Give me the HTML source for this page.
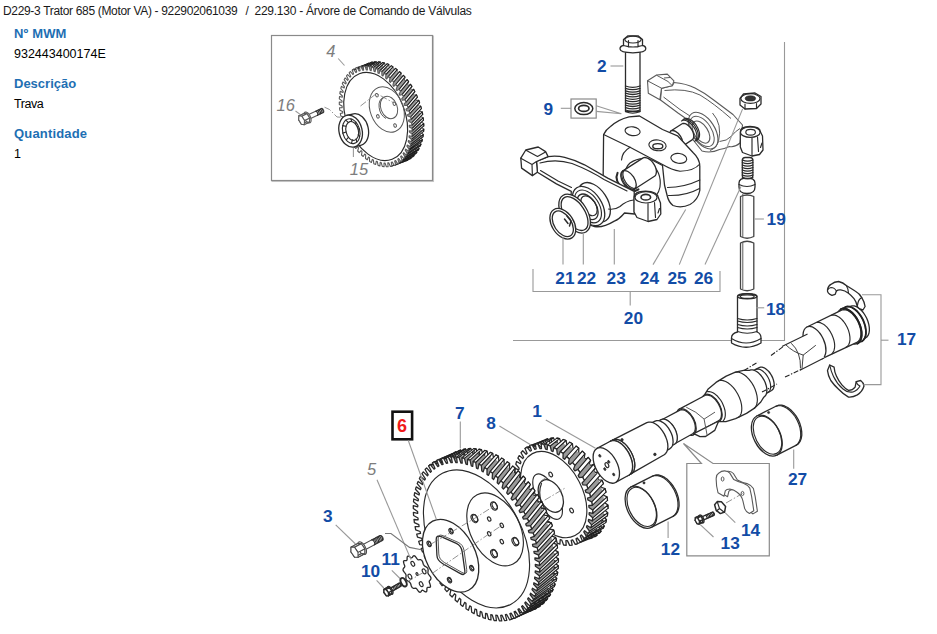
<!DOCTYPE html>
<html lang="pt-BR">
<head>
<meta charset="utf-8">
<title>229.130 - Árvore de Comando de Válvulas</title>
<style>
html,body{margin:0;padding:0;background:#fff;}
body{width:937px;height:634px;position:relative;overflow:hidden;font-family:"Liberation Sans",Arial,sans-serif;color:#000;}
#hdr{position:absolute;left:0;top:3.5px;font-size:12px;line-height:15px;white-space:pre;color:#1a1a1a;}
#hdr span{position:absolute;top:0;}
#h1{left:3px;letter-spacing:-0.33px;}#h2{left:245.5px;}#h3{left:254.5px;letter-spacing:-0.25px;}
.lab{position:absolute;left:14px;font-weight:bold;font-size:13px;line-height:16px;color:#1e6fb3;white-space:nowrap;}
.val{position:absolute;left:14px;font-size:12.5px;line-height:16px;color:#000;white-space:nowrap;}
#dia{position:absolute;left:0;top:0;width:937px;height:634px;}
</style>
</head>
<body>
<div id="hdr"><span id="h1">D229-3 Trator 685 (Motor VA) - 922902061039</span><span id="h2">/</span><span id="h3">229.130 - Árvore de Comando de Válvulas</span></div>
<div class="lab" id="l1" style="top:26px;letter-spacing:0.15px">Nº MWM</div>
<div class="val" id="v1" style="top:46px">932443400174E</div>
<div class="lab" id="l2" style="top:76px">Descrição</div>
<div class="val" id="v2" style="top:96px;letter-spacing:-0.45px">Trava</div>
<div class="lab" id="l3" style="top:126px;letter-spacing:0.17px">Quantidade</div>
<div class="val" id="v3" style="top:146px">1</div>
<svg id="dia" viewBox="0 0 937 634" width="937" height="634">
<style>
.k{fill:#fff;stroke:#2b2b2b;stroke-width:1.3;stroke-linejoin:round;stroke-linecap:round}
.n{fill:none;stroke:#2b2b2b;stroke-width:1.15;stroke-linejoin:round;stroke-linecap:round}
.l{fill:#fff;stroke:#5a5a5a;stroke-width:1.1;stroke-linejoin:round}
.ln{fill:none;stroke:#5a5a5a;stroke-width:1;stroke-linejoin:round}
.wf{fill:#fff;stroke:none}
.nb{fill:none;stroke:#222;stroke-width:1.8;stroke-linecap:round}
.m{fill:#fff;stroke:#4a4a4a;stroke-width:1.05;stroke-linejoin:round}
.band{fill:#9a9a9a;stroke:none}
.tooth{fill:#fff;stroke:#1e1e1e;stroke-width:1.1;stroke-linejoin:round}
.g{fill:none;stroke:#999;stroke-width:1.1}
.gb{fill:#fff;stroke:#8a8a8a;stroke-width:1.2}
.dd{fill:none;stroke:#777;stroke-width:0.8;stroke-dasharray:7 2 1.5 2}
.dk{fill:none;stroke:#222;stroke-width:1.1;stroke-dasharray:5 1.6 1.4 1.6}
.d{fill:#333;stroke:#222;stroke-width:0.6}
.t{font:bold 17.3px "Liberation Sans",Arial,sans-serif;fill:#124ca6}
.ti{font:italic 16.5px "Liberation Sans",Arial,sans-serif;fill:#7d7d7d}
.tr{font:bold 18px "Liberation Sans",Arial,sans-serif;fill:#f01a1a}
</style>
<polyline class="g" points="784.5,42 784.5,340.5 760.5,340.5"/>
<line class="g" x1="513" y1="340.5" x2="731" y2="340.5"/>
<polyline class="g" points="533,269 533,291.5 720,291.5 720,271"/>
<line class="g" x1="630.2" y1="291.5" x2="630.2" y2="305.5"/>
<rect x="272.3" y="36.3" width="161" height="145" fill="none" stroke="#c8c8c8" stroke-width="1.5"/>
<rect class="gb" x="271.5" y="35.5" width="161" height="145"/>
<g id="inset">
<polygon class="l" points="413.8,95.2 416.4,94.7 417.4,97.1 415.5,99 416.1,100.4 418.7,100.3 419.6,102.8 417.5,104.3 417.9,105.7 420.7,106.1 421.4,108.6 419,109.6 419.4,111.1 422.2,111.9 422.7,114.4 420.2,115 420.4,116.5 423.2,117.7 423.5,120.2 420.9,120.4 421,121.9 423.7,123.5 423.8,125.9 421.1,125.7 421.1,127.1 423.8,129.1 423.6,131.4 420.9,130.7 420.7,132.1 423.3,134.5 423,136.7 420.2,135.6 419.9,136.8 422.4,139.5 421.8,141.6 419.1,140.1 418.7,141.2 421,144.2 420.2,146.1 417.5,144.2 417,145.2 419.1,148.5 418.2,150.2 415.6,147.9 415,148.8 416.8,152.3 415.7,153.7 413.2,151.1 412.5,151.8 414.1,155.5 412.9,156.7 410.5,153.7 409.8,154.4 411.1,158.1 409.7,159.1 407.5,155.9 406.7,156.3 407.7,160.2 406.2,160.8 404.3,157.4 403.4,157.7 404.1,161.5 402.4,161.9 400.8,158.3 399.8,158.4 400.2,162.2 398.5,162.3 397.1,158.5 396.1,158.5 396.2,162.2 394.4,162 393.3,158.2 392.2,158 392,161.6 390.2,161.1 389.4,157.2 388.3,156.9 387.8,160.2 385.9,159.4 385.5,155.6 384.4,155.1 383.5,158.2 381.7,157.2 381.6,153.5 380.5,152.8 379.4,155.6 377.6,154.3 377.7,150.7 376.7,149.9 375.3,152.4 373.6,150.9 374.1,147.5 373.1,146.5 371.4,148.7 369.8,146.9 370.6,143.7 369.6,142.6 367.7,144.4 366.2,142.5 367.3,139.5 366.4,138.4 364.3,139.7 362.9,137.6 364.3,135 363.5,133.7 361.1,134.7 359.9,132.4 361.6,130.2 360.9,128.8 358.4,129.3 357.3,126.9 359.2,125.1 358.7,123.6 356,123.7 355.1,121.3 357.3,119.8 356.8,118.3 354.1,118 353.4,115.5 355.7,114.4 355.4,112.9 352.6,112.1 352.1,109.6 354.6,109 354.3,107.5 351.6,106.3 351.3,103.8 353.9,103.6 353.8,102.2 351,100.5 350.9,98.1 353.6,98.4 353.7,97 351,94.9 351.1,92.6 353.9,93.3 354,92 351.4,89.6 351.8,87.3 354.5,88.5 354.8,87.2 352.4,84.5 352.9,82.4 355.7,84 356,82.8 353.8,79.8 354.5,77.9 357.2,79.9 357.7,78.8 355.6,75.5 356.6,73.8 359.2,76.2 359.8,75.3 357.9,71.8 359,70.3 361.5,73 362.2,72.2 360.6,68.5 361.9,67.3 364.2,70.3 365,69.7 363.6,65.9 365.1,65 367.2,68.2 368,67.7 367,63.9 368.6,63.2 370.5,66.7 371.4,66.4 370.7,62.5 372.3,62.1 374,65.8 374.9,65.6 374.5,61.8 376.3,61.7 377.6,65.5 378.7,65.5 378.6,61.8 380.4,62 381.5,65.8 382.5,66 382.7,62.5 384.6,63 385.4,66.8 386.4,67.2 387,63.8 388.8,64.6 389.3,68.4 390.3,68.9 391.2,65.8 393,66.9 393.2,70.6 394.2,71.3 395.4,68.4 397.2,69.7 397,73.3 398,74.2 399.5,71.6 401.2,73.2 400.7,76.6 401.6,77.6 403.4,75.4 405,77.1 404.2,80.3 405.1,81.4 407.1,79.6 408.6,81.6 407.5,84.5 408.3,85.7 410.5,84.3 411.9,86.4 410.5,89 411.2,90.3 413.6,89.3 414.8,91.6 413.2,93.9"/>
<polygon class="band" points="370,66.8 371.3,66.4 372.6,66 373.9,65.8 375.3,65.6 376.7,65.5 378.1,65.5 379.5,65.6 381,65.8 382.4,66 383.9,66.4 385.3,66.8 386.8,67.3 388.3,67.9 389.7,68.6 391.2,69.4 392.7,70.3 394.1,71.2 395.6,72.2 397,73.3 398.4,74.5 399.8,75.7 401.1,77 402.4,78.4 403.7,79.8 405,81.3 406.2,82.9 407.4,84.5 408.6,86.1 409.7,87.8 410.8,89.6 411.8,91.4 412.8,93.2 413.8,95.1 414.7,97 415.5,99 416.3,100.9 417,102.9 417.7,104.9 418.3,106.9 418.9,108.9 419.4,111 419.8,113 420.2,115 420.5,117 420.7,119.1 420.9,121.1 421,123 421.1,125 421.1,126.9 421,128.8 420.9,130.7 420.7,132.6 420.4,134.4 420.1,136.1 419.7,137.8 419.2,139.5 418.7,141.1 418.2,142.7 417.5,144.2 416.9,145.6 416.1,147 415.3,148.3 414.5,149.5 413.6,150.7 412.6,151.8 411.6,152.8 410.6,153.7 409.5,154.6 408.3,155.4 407.2,156.1 406,156.7 404.7,157.2 393,161.7 394.3,161.2 395.5,160.5 396.7,159.8 397.8,159.1 398.9,158.2 399.9,157.3 400.9,156.3 401.9,155.2 402.8,154 403.6,152.8 404.4,151.5 405.2,150.1 405.9,148.6 406.5,147.1 407.1,145.6 407.6,144 408,142.3 408.4,140.6 408.7,138.8 409,137 409.2,135.2 409.3,133.3 409.4,131.4 409.4,129.5 409.4,127.5 409.2,125.5 409.1,123.5 408.8,121.5 408.5,119.5 408.1,117.5 407.7,115.4 407.2,113.4 406.6,111.4 406,109.4 405.3,107.4 404.6,105.4 403.8,103.4 403,101.5 402.1,99.6 401.2,97.7 400.2,95.9 399.1,94.1 398.1,92.3 396.9,90.6 395.8,89 394.6,87.3 393.3,85.8 392.1,84.3 390.8,82.9 389.4,81.5 388.1,80.2 386.7,79 385.3,77.8 383.9,76.7 382.4,75.7 381,74.8 379.5,73.9 378.1,73.1 376.6,72.4 375.1,71.8 373.7,71.3 372.2,70.9 370.7,70.5 369.3,70.2 367.9,70.1 366.4,70 365,70 363.6,70.1 362.3,70.3 360.9,70.5 359.6,70.9 358.4,71.3"/>
<polygon class="tooth" points="407.3,105.4 408.1,107.8 417.4,97.1 416.4,94.7"/>
<polygon class="tooth" points="409.2,111.1 409.8,113.6 419.6,102.8 418.7,100.3"/>
<polygon class="tooth" points="410.6,117 411.1,119.5 421.4,108.6 420.7,106.1"/>
<polygon class="tooth" points="411.6,122.8 411.9,125.3 422.7,114.4 422.2,111.9"/>
<polygon class="tooth" points="412.1,128.5 412.1,131 423.5,120.2 423.2,117.7"/>
<polygon class="tooth" points="412.1,134.1 411.9,136.5 423.8,125.9 423.7,123.5"/>
<polygon class="tooth" points="411.6,139.5 411.2,141.7 423.6,131.4 423.8,129.1"/>
<polygon class="tooth" points="410.6,144.5 410,146.6 423,136.7 423.3,134.5"/>
<polygon class="tooth" points="409.1,149.2 408.4,151 421.8,141.6 422.4,139.5"/>
<polygon class="tooth" points="407.2,153.4 406.3,155.1 420.2,146.1 421,144.2"/>
<polygon class="tooth" points="404.9,157.1 403.8,158.5 418.2,150.2 419.1,148.5"/>
<polygon class="tooth" points="402.2,160.3 400.9,161.5 415.7,153.7 416.8,152.3"/>
<polygon class="tooth" points="399.1,162.8 397.7,163.8 412.9,156.7 414.1,155.5"/>
<polygon class="tooth" points="395.7,164.8 394.2,165.4 409.7,159.1 411.1,158.1"/>
<polygon class="tooth" points="392,166.1 390.4,166.4 406.2,160.8 407.7,160.2"/>
<polygon class="tooth" points="352.3,70.2 353.7,69.2 361.9,67.3 360.6,68.5"/>
<polygon class="tooth" points="355.7,68.2 357.2,67.6 365.1,65 363.6,65.9"/>
<polygon class="tooth" points="359.4,66.9 361,66.6 368.6,63.2 367,63.9"/>
<polygon class="tooth" points="363.3,66.3 365,66.2 372.3,62.1 370.7,62.5"/>
<polygon class="tooth" points="367.3,66.3 369.1,66.6 376.3,61.7 374.5,61.8"/>
<polygon class="tooth" points="371.5,67.1 373.3,67.6 380.4,62 378.6,61.8"/>
<polygon class="tooth" points="375.7,68.5 377.6,69.3 384.6,63 382.7,62.5"/>
<polygon class="tooth" points="380,70.5 381.8,71.6 388.8,64.6 387,63.8"/>
<polygon class="tooth" points="384.1,73.2 385.9,74.5 393,66.9 391.2,65.8"/>
<polygon class="tooth" points="388.2,76.5 389.9,78 397.2,69.7 395.4,68.4"/>
<polygon class="tooth" points="392.1,80.3 393.7,82 401.2,73.2 399.5,71.6"/>
<polygon class="tooth" points="395.7,84.5 397.2,86.5 405,77.1 403.4,75.4"/>
<polygon class="tooth" points="399.1,89.3 400.5,91.4 408.6,81.6 407.1,79.6"/>
<polygon class="tooth" points="402.2,94.4 403.4,96.6 411.9,86.4 410.5,84.3"/>
<polygon class="tooth" points="404.9,99.7 406,102.1 414.8,91.6 413.6,89.3"/>
<polygon class="l" points="404.6,105.4 407.3,105.4 408.1,107.8 406,109.3 406.4,110.7 409.2,111.1 409.8,113.6 407.5,114.7 407.8,116.1 410.6,117 411.1,119.5 408.6,120.1 408.8,121.5 411.6,122.8 411.9,125.3 409.2,125.4 409.3,126.9 412.1,128.5 412.1,131 409.4,130.7 409.4,132.1 412.1,134.1 411.9,136.5 409.2,135.7 409,137 411.6,139.5 411.2,141.7 408.4,140.5 408.2,141.7 410.6,144.5 410,146.6 407.3,145 406.9,146.1 409.1,149.2 408.4,151 405.7,149.1 405.2,150.1 407.2,153.4 406.3,155.1 403.7,152.7 403.1,153.6 404.9,157.1 403.8,158.5 401.3,155.8 400.6,156.6 402.2,160.3 400.9,161.5 398.6,158.5 397.8,159.1 399.1,162.8 397.7,163.8 395.6,160.5 394.7,161 395.7,164.8 394.2,165.4 392.3,162 391.3,162.3 392,166.1 390.4,166.4 388.7,162.8 387.8,162.9 388.1,166.7 386.4,166.8 385,163 384,163 384.1,166.7 382.3,166.4 381.2,162.6 380.2,162.4 379.9,165.9 378.1,165.4 377.3,161.6 376.3,161.2 375.7,164.5 373.8,163.7 373.4,159.9 372.3,159.4 371.4,162.5 369.6,161.4 369.5,157.7 368.5,157 367.3,159.8 365.5,158.5 365.7,154.9 364.7,154 363.2,156.5 361.5,155 362,151.6 361.1,150.6 359.3,152.7 357.7,151 358.5,147.8 357.6,146.7 355.7,148.5 354.2,146.5 355.3,143.6 354.5,142.4 352.3,143.7 350.9,141.6 352.3,139 351.6,137.7 349.2,138.6 348,136.4 349.7,134.1 349,132.8 346.5,133.3 345.4,130.9 347.3,129 346.8,127.6 344.1,127.6 343.3,125.2 345.4,123.7 345,122.3 342.2,121.9 341.6,119.4 343.9,118.3 343.6,116.9 340.8,116 340.3,113.5 342.8,112.9 342.6,111.5 339.8,110.2 339.5,107.7 342.2,107.6 342.1,106.1 339.3,104.5 339.3,102 342,102.3 342,100.9 339.3,98.9 339.5,96.5 342.2,97.3 342.4,96 339.8,93.5 340.2,91.3 343,92.5 343.2,91.3 340.8,88.5 341.4,86.4 344.1,88 344.5,86.9 342.3,83.8 343,82 345.7,83.9 346.2,82.9 344.2,79.6 345.1,77.9 347.7,80.3 348.3,79.4 346.5,75.9 347.6,74.5 350.1,77.2 350.8,76.4 349.2,72.7 350.5,71.5 352.8,74.5 353.6,73.9 352.3,70.2 353.7,69.2 355.8,72.5 356.7,72 355.7,68.2 357.2,67.6 359.1,71 360.1,70.7 359.4,66.9 361,66.6 362.7,70.2 363.6,70.1 363.3,66.3 365,66.2 366.4,70 367.4,70 367.3,66.3 369.1,66.6 370.2,70.4 371.2,70.6 371.5,67.1 373.3,67.6 374.1,71.4 375.1,71.8 375.7,68.5 377.6,69.3 378,73.1 379.1,73.6 380,70.5 381.8,71.6 381.9,75.3 382.9,76 384.1,73.2 385.9,74.5 385.7,78.1 386.7,79 388.2,76.5 389.9,78 389.4,81.4 390.3,82.4 392.1,80.3 393.7,82 392.9,85.2 393.8,86.3 395.7,84.5 397.2,86.5 396.1,89.4 396.9,90.6 399.1,89.3 400.5,91.4 399.1,94 399.8,95.3 402.2,94.4 403.4,96.6 401.7,98.9 402.4,100.2 404.9,99.7 406,102.1 404.1,104"/>
<ellipse class="n" cx="375.7" cy="116.5" rx="29.3" ry="45.8" transform="rotate(-21 375.7 116.5)"/>
<ellipse class="ln" cx="386.8" cy="109.5" rx="16.5" ry="23.5" transform="rotate(-21 386.8 109.5)"/>
<ellipse class="ln" cx="389" cy="107.5" rx="8.2" ry="11.6" transform="rotate(-21 389 107.5)"/>
<path class="ln" d="M383.5,97.5 A8.2,11.6 -21 0 0 386,118.5"/>
<ellipse class="ln" cx="376.9" cy="95.2" rx="1.3" ry="1.8" transform="rotate(-21 376.9 95.2)"/>
<ellipse class="ln" cx="394.3" cy="103.7" rx="1.3" ry="1.8" transform="rotate(-21 394.3 103.7)"/>
<ellipse class="ln" cx="377.9" cy="116.4" rx="1.3" ry="1.8" transform="rotate(-21 377.9 116.4)"/>
<ellipse class="ln" cx="395.1" cy="125.5" rx="1.3" ry="1.8" transform="rotate(-21 395.1 125.5)"/>
<polyline class="dd" points="324.5,107.2 329.5,109.5 337,117 346,117.5"/>
<polyline class="dd" points="360.5,106 376.5,93.5 394,103"/>
<path class="k" d="M346.7,115.5 L353.5,113.8 A11.5,16.2 -14 0 1 361.3,145.2 L354.5,146.9 Z"/>
<ellipse class="k" cx="350.6" cy="131.2" rx="11.5" ry="16.2" transform="rotate(-14 350.6 131.2)"/>
<ellipse class="n" cx="351.2" cy="131.2" rx="8.6" ry="12.6" transform="rotate(-14 351.2 131.2)"/>
<ellipse class="n" cx="352.2" cy="130.9" rx="6.2" ry="9.6" transform="rotate(-14 352.2 130.9)"/>
<line class="n" x1="359.5" y1="129" x2="358.1" y2="129"/>
<line class="n" x1="359.7" y1="136.6" x2="358.3" y2="134.8"/>
<line class="n" x1="356.7" y1="142" x2="356.1" y2="138.9"/>
<line class="n" x1="351.5" y1="143.3" x2="352.4" y2="139.8"/>
<line class="n" x1="346.2" y1="139.9" x2="348.6" y2="137.2"/>
<line class="n" x1="342.8" y1="133.1" x2="346.1" y2="132"/>
<line class="n" x1="342.6" y1="125.6" x2="345.8" y2="126.3"/>
<line class="n" x1="345.7" y1="120.1" x2="348" y2="122.1"/>
<line class="n" x1="350.9" y1="118.8" x2="351.7" y2="121.2"/>
<line class="n" x1="356.1" y1="122.2" x2="355.6" y2="123.8"/>
<polygon class="l" points="306.5,115.4 321.5,108.4 321.5,108.4 322.1,108.4 322.9,109 323.5,110 323.8,111.1 323.8,112 323.4,112.6 308.5,119.5"/>
<polyline class="n" style="stroke-width:1.1" points="320.9,108.6 322,108.9 322.9,110.2 323.3,111.9 322.9,112.8"/>
<polyline class="n" style="stroke-width:1.1" points="319.6,109.3 320.6,109.5 321.6,110.9 322,112.5 321.5,113.5"/>
<polyline class="n" style="stroke-width:1.1" points="318.2,109.9 319.2,110.2 320.2,111.5 320.6,113.1 320.2,114.1"/>
<polyline class="n" style="stroke-width:1.1" points="316.9,110.6 317.9,110.8 318.9,112.1 319.2,113.8 318.8,114.7"/>
<polyline class="n" style="stroke-width:1.1" points="315.5,111.2 316.5,111.5 317.5,112.8 317.9,114.4 317.4,115.4"/>
<polygon class="l" points="310.2,116.2 310.8,117.9 311.1,119.6 311.1,121 310.7,122.1 310,122.8 309,122.9 307.9,122.5 306.8,121.6 305.7,120.3 304.8,118.7 304.2,117 303.9,115.3 303.9,113.9 304.3,112.8 305,112.1 306,112 307,112.4 308.2,113.3 309.3,114.6 310.2,116.2"/>
<polygon class="l" points="309.7,118.1 309.5,122.2 306.5,121.8 303.8,117.4 304.1,113.4 307,113.7"/>
<polygon class="l" points="304.5,120.5 304.3,124.6 309.5,122.2 309.7,118.1"/>
<polygon class="l" points="304.3,124.6 301.4,124.2 306.5,121.8 309.5,122.2"/>
<polygon class="l" points="301.4,124.2 298.7,119.9 303.8,117.4 306.5,121.8"/>
<polygon class="l" points="298.7,119.9 298.9,115.8 304.1,113.4 303.8,117.4"/>
<polygon class="l" points="298.9,115.8 301.8,116.2 307,113.7 304.1,113.4"/>
<polygon class="l" points="301.8,116.2 304.5,120.5 309.7,118.1 307,113.7"/>
<polygon class="l" points="304.5,120.5 304.3,124.6 301.4,124.2 298.7,119.9 298.9,115.8 301.8,116.2"/>
<line class="g" x1="338.2" y1="58.5" x2="344.5" y2="65.5"/>
<line class="g" x1="295.5" y1="111" x2="300.5" y2="114.6"/>
<line class="g" x1="353.4" y1="148" x2="353.4" y2="157"/>
<text class="ti" x="326.3" y="56.6">4</text>
<text class="ti" x="276.6" y="110.9">16</text>
<text class="ti" x="349.8" y="175.3">15</text>
</g>
<g id="gears">
<polygon class="k" points="427.8,568.4 428.1,569.7 428.1,571 427.9,572.2 428,573.3 428.6,574.4 429.6,575.6 430.5,576.8 431,578.1 430.8,579.2 430.2,580 429.5,580.7 429.2,581.5 429.4,582.6 430,584.1 430.4,585.5 430.5,586.7 429.9,587.3 428.8,587.4 427.8,587.4 427.2,587.7 426.9,588.5 426.9,589.9 426.8,591.2 426.3,591.9 425.4,591.9 424.3,591.2 423.2,590.5 422.4,590.2 421.7,590.5 421.2,591.4 420.5,592.2 419.7,592.3 418.7,591.6 417.8,590.4 416.9,589.1 416.1,588.3 415.3,588.1 414.3,588.3 413.3,588.3 412.4,587.8 411.6,586.7 411.1,585.2 410.7,583.8 410.1,582.7 409.3,581.9 408.2,581.3 407.1,580.6 406.2,579.6 405.9,578.3 405.9,577 406.1,575.8 406,574.7 405.4,573.6 404.4,572.4 403.5,571.2 403,569.9 403.2,568.8 403.8,568 404.5,567.3 404.8,566.5 404.6,565.4 404,563.9 403.6,562.5 403.5,561.3 404.1,560.7 405.2,560.6 406.2,560.6 406.8,560.3 407.1,559.5 407.1,558.1 407.2,556.8 407.7,556.1 408.6,556.1 409.7,556.8 410.8,557.5 411.6,557.8 412.3,557.5 412.8,556.6 413.5,555.8 414.3,555.7 415.3,556.4 416.2,557.6 417.1,558.9 417.9,559.7 418.7,559.9 419.7,559.7 420.7,559.7 421.6,560.2 422.4,561.3 422.9,562.8 423.3,564.2 423.9,565.3 424.7,566.1 425.8,566.7 426.9,567.4"/>
<ellipse class="n" cx="409.9" cy="576.6" rx="1.6" ry="2.6" transform="rotate(-28 409.9 576.6)"/>
<ellipse class="n" cx="412.8" cy="563.8" rx="1.6" ry="2.6" transform="rotate(-28 412.8 563.8)"/>
<ellipse class="n" cx="424.1" cy="571.4" rx="1.6" ry="2.6" transform="rotate(-28 424.1 571.4)"/>
<ellipse class="n" cx="421.2" cy="584.2" rx="1.6" ry="2.6" transform="rotate(-28 421.2 584.2)"/>
<ellipse class="n" cx="417" cy="574" rx="0.9" ry="1.5" transform="rotate(-28 417 574)"/>
<polyline class="dd" points="407,582 431,568"/>
<polygon class="k" points="594.8,472.5 598.2,472 599.9,475.5 597.6,477.8 598.5,479.8 602,480.2 603.4,483.7 600.6,485.3 601.3,487.4 605,488.5 606,492.1 602.8,493 603.2,495 607,496.9 607.5,500.4 604,500.4 604.2,502.4 607.9,505 608,508.4 604.3,507.6 604.2,509.5 607.7,512.7 607.4,515.8 603.6,514.3 603.2,516 606.5,519.8 605.7,522.6 602,520.2 601.4,521.7 604.3,526 603.1,528.3 599.4,525.3 598.6,526.6 601.1,531.2 599.5,533 596,529.5 595,530.4 597,535.2 595,536.6 591.9,532.5 590.7,533.1 592.2,538 589.9,538.7 587.2,534.3 585.8,534.5 586.7,539.4 584.2,539.6 581.9,534.8 580.4,534.8 580.7,539.4 578.1,539 576.3,534.2 574.8,533.8 574.4,538.1 571.7,537.1 570.5,532.2 568.9,531.5 568,535.4 565.2,533.9 564.7,529.1 563.1,528.1 561.5,531.5 558.8,529.4 558.9,524.9 557.4,523.6 555.3,526.4 552.7,523.8 553.5,519.7 552,518.2 549.5,520.2 547.1,517.3 548.4,513.7 547.1,511.9 544.1,513.2 542,510 543.9,507 542.8,505.1 539.5,505.6 537.7,502.1 540.1,499.8 539.2,497.7 535.6,497.4 534.2,493.9 537.1,492.2 536.4,490.2 532.7,489.1 531.7,485.5 534.9,484.6 534.5,482.6 530.7,480.7 530.2,477.2 533.7,477.1 533.5,475.2 529.8,472.6 529.7,469.2 533.4,470 533.5,468.1 529.9,464.9 530.3,461.7 534.1,463.3 534.4,461.6 531.1,457.8 531.9,455 535.7,457.3 536.3,455.9 533.3,451.6 534.6,449.2 538.2,452.2 539.1,451 536.5,446.4 538.2,444.5 541.6,448.1 542.6,447.2 540.6,442.4 542.6,441 545.7,445.1 546.9,444.5 545.5,439.6 547.7,438.8 550.5,443.3 551.8,443 550.9,438.2 553.5,438 555.7,442.8 557.2,442.8 556.9,438.1 559.6,438.6 561.3,443.4 562.9,443.8 563.2,439.5 566,440.5 567.1,445.4 568.7,446.1 569.7,442.2 572.4,443.7 573,448.5 574.6,449.5 576.1,446.1 578.8,448.2 578.7,452.7 580.2,454 582.3,451.2 584.9,453.8 584.2,457.9 585.6,459.4 588.2,457.4 590.6,460.3 589.2,463.9 590.5,465.7 593.5,464.4 595.6,467.6 593.7,470.6"/>
<polygon class="band" points="546,445 547.2,444.4 548.5,443.9 549.8,443.5 551.1,443.2 552.4,443 553.8,442.8 555.2,442.8 556.7,442.8 558.1,442.9 559.6,443.1 561.1,443.4 562.7,443.8 564.2,444.2 565.7,444.8 567.3,445.4 568.8,446.1 570.4,446.9 571.9,447.8 573.4,448.8 575,449.8 576.5,450.9 578,452.1 579.5,453.3 580.9,454.6 582.4,456 583.8,457.5 585.2,459 586.6,460.5 587.9,462.1 589.2,463.8 590.4,465.5 591.6,467.3 592.8,469.1 593.9,470.9 595,472.8 596,474.7 597,476.6 597.9,478.5 598.7,480.5 599.5,482.5 600.3,484.5 601,486.5 601.6,488.5 602.2,490.5 602.7,492.5 603.1,494.5 603.5,496.5 603.8,498.5 604,500.4 604.2,502.3 604.3,504.2 604.3,506.1 604.3,508 604.2,509.8 604,511.5 603.8,513.3 603.5,514.9 603.1,516.6 602.7,518.2 602.2,519.7 601.6,521.1 601,522.5 600.3,523.9 599.6,525.1 598.7,526.3 597.9,527.5 597,528.5 596,529.5 595,530.4 593.9,531.2 592.8,532 591.6,532.6 576.5,538.4 577.7,537.8 578.8,537 579.9,536.2 580.9,535.3 581.8,534.3 582.8,533.3 583.6,532.1 584.4,530.9 585.2,529.7 585.9,528.3 586.5,526.9 587,525.5 587.5,524 588,522.4 588.3,520.8 588.6,519.1 588.9,517.4 589,515.6 589.1,513.8 589.2,511.9 589.1,510.1 589,508.1 588.9,506.2 588.6,504.3 588.3,502.3 588,500.3 587.5,498.3 587,496.3 586.5,494.3 585.8,492.3 585.2,490.3 584.4,488.3 583.6,486.3 582.8,484.3 581.8,482.4 580.9,480.5 579.8,478.6 578.8,476.7 577.7,474.9 576.5,473.1 575.3,471.3 574,469.6 572.8,467.9 571.4,466.3 570.1,464.8 568.7,463.3 567.3,461.8 565.8,460.4 564.4,459.1 562.9,457.9 561.4,456.7 559.8,455.6 558.3,454.6 556.8,453.6 555.2,452.7 553.7,451.9 552.1,451.2 550.6,450.6 549.1,450 547.5,449.6 546,449.2 544.5,448.9 543,448.7 541.6,448.6 540.1,448.6 538.7,448.6 537.3,448.8 536,449 534.6,449.3 533.3,449.7 532.1,450.2 530.9,450.8"/>
<polygon class="tooth" points="586.6,485.1 588,488.7 599.9,475.5 598.2,472"/>
<polygon class="tooth" points="589.6,493.5 590.6,497.1 603.4,483.7 602,480.2"/>
<polygon class="tooth" points="591.7,501.9 592.3,505.4 606,492.1 605,488.5"/>
<polygon class="tooth" points="592.7,510 592.8,513.4 607.5,500.4 607,496.9"/>
<polygon class="tooth" points="592.7,517.8 592.3,520.9 608,508.4 607.9,505"/>
<polygon class="tooth" points="591.6,524.9 590.8,527.7 607.4,515.8 607.7,512.7"/>
<polygon class="tooth" points="589.5,531.2 588.2,533.6 605.7,522.6 606.5,519.8"/>
<polygon class="tooth" points="586.4,536.5 584.7,538.4 603.1,528.3 604.3,526"/>
<polygon class="tooth" points="582.4,540.7 580.4,542.1 599.5,533 601.1,531.2"/>
<polygon class="tooth" points="577.6,543.6 575.3,544.4 595,536.6 597,535.2"/>
<polygon class="tooth" points="525,448.5 527,447.1 538.2,444.5 536.5,446.4"/>
<polygon class="tooth" points="529.8,445.6 532.1,444.8 542.6,441 540.6,442.4"/>
<polygon class="tooth" points="535.2,444.1 537.7,443.8 547.7,438.8 545.5,439.6"/>
<polygon class="tooth" points="541.2,443.9 543.8,444.2 553.5,438 550.9,438.2"/>
<polygon class="tooth" points="547.5,445.1 550.2,446 559.6,438.6 556.9,438.1"/>
<polygon class="tooth" points="553.9,447.6 556.7,449.1 566,440.5 563.2,439.5"/>
<polygon class="tooth" points="560.3,451.5 563.1,453.5 572.4,443.7 569.7,442.2"/>
<polygon class="tooth" points="566.6,456.5 569.2,459 578.8,448.2 576.1,446.1"/>
<polygon class="tooth" points="572.5,462.5 574.9,465.4 584.9,453.8 582.3,451.2"/>
<polygon class="tooth" points="577.9,469.4 580,472.6 590.6,460.3 588.2,457.4"/>
<polygon class="tooth" points="582.6,477.1 584.4,480.5 595.6,467.6 593.5,464.4"/>
<polygon class="k" points="583,484.9 586.6,485.1 588,488.7 585.2,490.4 585.9,492.4 589.6,493.5 590.6,497.1 587.5,498 587.9,500 591.7,501.9 592.3,505.4 588.8,505.5 589,507.5 592.7,510 592.8,513.4 589.2,512.7 589.1,514.6 592.7,517.8 592.3,520.9 588.6,519.4 588.3,521.1 591.6,524.9 590.8,527.7 587,525.5 586.5,527 589.5,531.2 588.2,533.6 584.6,530.7 583.8,531.9 586.4,536.5 584.7,538.4 581.3,534.9 580.3,535.9 582.4,540.7 580.4,542.1 577.2,538 576,538.7 577.6,543.6 575.3,544.4 572.6,539.9 571.2,540.3 572.2,545.1 569.7,545.4 567.4,540.6 565.9,540.6 566.2,545.3 563.6,545 561.8,540.1 560.2,539.7 559.9,544.1 557.2,543.2 556,538.3 554.4,537.6 553.5,541.6 550.7,540.1 550.1,535.3 548.6,534.3 547.1,537.7 544.3,535.7 544.4,531.2 542.8,529.9 540.8,532.7 538.2,530.2 538.9,526.1 537.4,524.6 534.9,526.7 532.5,523.8 533.8,520.1 532.5,518.4 529.5,519.8 527.4,516.6 529.2,513.5 528.1,511.6 524.8,512.1 523,508.7 525.3,506.3 524.4,504.3 520.8,504.1 519.4,500.5 522.2,498.8 521.5,496.8 517.8,495.7 516.8,492.1 519.9,491.2 519.5,489.2 515.7,487.3 515.1,483.8 518.6,483.7 518.4,481.7 514.7,479.2 514.6,475.8 518.2,476.5 518.3,474.6 514.7,471.4 515.1,468.3 518.8,469.8 519.1,468.1 515.8,464.3 516.6,461.5 520.4,463.7 520.9,462.2 517.9,458 519.2,455.6 522.8,458.5 523.6,457.3 521,452.7 522.7,450.8 526.1,454.3 527.1,453.3 525,448.5 527,447.1 530.2,451.2 531.4,450.5 529.8,445.6 532.1,444.8 534.8,449.3 536.2,448.9 535.2,444.1 537.7,443.8 540,448.6 541.5,448.6 541.2,443.9 543.8,444.2 545.6,449.1 547.2,449.5 547.5,445.1 550.2,446 551.4,450.9 553,451.6 553.9,447.6 556.7,449.1 557.3,453.9 558.8,454.9 560.3,451.5 563.1,453.5 563,458 564.6,459.3 566.6,456.5 569.2,459 568.5,463.1 570,464.6 572.5,462.5 574.9,465.4 573.6,469.1 574.9,470.8 577.9,469.4 580,472.6 578.2,475.7 579.3,477.6 582.6,477.1 584.4,480.5 582.1,482.9"/>
<ellipse class="n" cx="553.7" cy="494.6" rx="28.6" ry="46.2" transform="rotate(-27.5 553.7 494.6)"/>
<ellipse class="n" cx="547.6" cy="496.6" rx="10.5" ry="25" transform="rotate(-27.5 547.6 496.6)"/>
<ellipse class="k" cx="550.8" cy="496" rx="11" ry="17.4" transform="rotate(-27.5 550.8 496)"/>
<path class="n" d="M541.5,483.5 Q536,497 547.5,513.5"/>
<ellipse class="n" cx="550.7" cy="474.5" rx="1.6" ry="2.5" transform="rotate(-27.5 550.7 474.5)"/>
<ellipse class="n" cx="571.6" cy="510.5" rx="1.6" ry="2.5" transform="rotate(-27.5 571.6 510.5)"/>
<ellipse class="n" cx="548.8" cy="523.8" rx="1.6" ry="2.5" transform="rotate(-27.5 548.8 523.8)"/>
<polyline class="dd" points="534,506.5 566,487.5"/>
<polyline class="dd" points="541,481 550.7,474.5"/>
<polygon class="k" points="537.7,502.3 541.4,501.3 543,504.2 540.3,507 541.2,508.8 545.1,508.2 546.5,511.3 543.5,513.6 544.3,515.4 548.4,515.4 549.6,518.5 546.3,520.4 547,522.2 551.2,522.7 552.3,525.8 548.7,527.2 549.3,529 553.6,530 554.5,533.2 550.7,534.1 551.2,535.9 555.5,537.4 556.2,540.5 552.3,540.9 552.6,542.7 557,544.7 557.5,547.8 553.3,547.6 553.6,549.4 557.9,551.9 558.2,554.9 554,554.2 554,556 558.4,558.9 558.4,561.8 554.1,560.7 554.1,562.4 558.3,565.7 558.1,568.5 553.8,566.8 553.6,568.5 557.7,572.2 557.3,574.9 553,572.7 552.7,574.3 556.7,578.3 556.1,580.9 551.7,578.3 551.3,579.7 555.1,584.1 554.3,586.5 550,583.4 549.4,584.7 553.1,589.5 552,591.6 547.8,588.2 547.1,589.4 550.5,594.4 549.3,596.3 545.2,592.4 544.4,593.5 547.6,598.7 546.2,600.4 542.2,596.2 541.3,597.1 544.2,602.5 542.6,604 538.8,599.4 537.9,600.2 540.4,605.8 538.7,607 535.1,602.1 534.1,602.8 536.3,608.4 534.4,609.3 531.1,604.3 529.9,604.7 531.8,610.4 529.8,611.1 526.8,605.8 525.5,606.1 527,611.8 524.9,612.2 522.2,606.7 520.9,606.8 522,612.5 519.8,612.6 517.4,607 516,607 516.8,612.5 514.5,612.3 512.4,606.7 511,606.5 511.3,611.9 509,611.4 507.3,605.8 505.9,605.4 505.8,610.6 503.4,609.9 502.1,604.2 500.6,603.7 500.2,608.7 497.7,607.7 496.8,602.1 495.4,601.4 494.5,606.2 492.1,604.9 491.5,599.4 490.1,598.6 488.9,603 486.4,601.5 486.2,596.1 484.8,595.2 483.2,599.3 480.9,597.5 481.1,592.4 479.7,591.3 477.7,595 475.4,593 476,588.1 474.7,586.8 472.4,590.2 470.1,588 471.1,583.3 469.8,582 467.2,584.9 465,582.5 466.4,578.2 465.1,576.7 462.2,579.2 460.2,576.6 461.9,572.6 460.7,571.1 457.5,573.1 455.6,570.3 457.7,566.7 456.6,565.1 453.1,566.6 451.3,563.8 453.8,560.5 452.8,558.8 449.1,559.9 447.4,556.9 450.2,554.1 449.3,552.4 445.4,552.9 443.9,549.8 447,547.5 446.2,545.7 442.1,545.7 440.8,542.6 444.1,540.8 443.4,538.9 439.2,538.4 438.2,535.3 441.7,533.9 441.1,532.1 436.8,531.1 436,527.9 439.7,527.1 439.3,525.2 434.9,523.7 434.2,520.6 438.2,520.2 437.8,518.4 433.5,516.4 433,513.3 437.1,513.5 436.9,511.7 432.5,509.2 432.3,506.2 436.5,506.9 436.4,505.1 432.1,502.2 432,499.3 436.4,500.5 436.4,498.8 432.1,495.4 432.3,492.6 436.7,494.3 436.9,492.7 432.7,488.9 433.1,486.2 437.5,488.4 437.8,486.9 433.8,482.8 434.4,480.2 438.8,482.9 439.2,481.4 435.4,477 436.2,474.6 440.5,477.7 441,476.4 437.4,471.6 438.4,469.5 442.7,473 443.3,471.8 439.9,466.8 441.1,464.8 445.2,468.7 446,467.6 442.9,462.4 444.3,460.7 448.2,464.9 449.1,464 446.3,458.6 447.8,457.1 451.6,461.7 452.6,460.9 450,455.3 451.8,454.1 455.3,459 456.4,458.4 454.2,452.7 456.1,451.8 459.4,456.9 460.5,456.4 458.7,450.7 460.7,450.1 463.7,455.3 464.9,455 463.4,449.4 465.6,449 468.3,454.4 469.6,454.3 468.5,448.6 470.7,448.5 473.1,454.1 474.4,454.2 473.7,448.6 476,448.8 478.1,454.4 479.4,454.6 479.1,449.2 481.5,449.7 483.2,455.4 484.6,455.7 484.6,450.5 487.1,451.2 488.4,456.9 489.8,457.4 490.3,452.4 492.7,453.4 493.7,459 495.1,459.7 495.9,454.9 498.4,456.2 499,461.7 500.4,462.6 501.6,458.1 504,459.6 504.2,465 505.6,466 507.2,461.8 509.6,463.6 509.4,468.8 510.8,469.9 512.7,466.1 515.1,468.1 514.5,473 515.8,474.3 518.1,470.9 520.4,473.1 519.4,477.8 520.7,479.1 523.3,476.2 525.5,478.6 524.1,483 525.3,484.4 528.2,481.9 530.3,484.5 528.6,488.5 529.7,490.1 532.9,488 534.9,490.8 532.8,494.4 533.9,496 537.3,494.5 539.1,497.4 536.7,500.6"/>
<polygon class="band" points="457.4,457.8 459.4,456.9 461.4,456.1 463.6,455.4 465.8,454.9 468,454.5 470.3,454.2 472.7,454.1 475.1,454.2 477.5,454.4 480,454.7 482.5,455.2 485,455.8 487.5,456.6 490.1,457.5 492.6,458.6 495.2,459.8 497.8,461.1 500.3,462.5 502.9,464.1 505.4,465.8 508,467.7 510.5,469.6 512.9,471.7 515.3,473.9 517.7,476.2 520.1,478.5 522.4,481 524.7,483.6 526.9,486.3 529,489.1 531.1,491.9 533.1,494.8 535,497.8 536.9,500.8 538.6,503.9 540.3,507.1 541.9,510.3 543.5,513.5 544.9,516.8 546.2,520.1 547.4,523.4 548.6,526.7 549.6,530 550.6,533.4 551.4,536.7 552.1,540 552.7,543.3 553.2,546.6 553.6,549.8 553.9,553.1 554.1,556.2 554.1,559.3 554.1,562.4 553.9,565.4 553.6,568.3 553.2,571.2 552.7,574 552.1,576.7 551.4,579.3 550.6,581.8 549.6,584.2 548.6,586.6 547.5,588.8 546.2,590.9 544.9,592.9 543.5,594.7 542,596.5 540.3,598.1 538.7,599.6 536.9,601 535,602.2 533.1,603.3 514.4,611.6 516.3,610.5 518.1,609.3 519.9,607.9 521.6,606.5 523.2,604.8 524.7,603.1 526.2,601.2 527.5,599.2 528.7,597.1 529.9,594.9 530.9,592.6 531.8,590.2 532.7,587.6 533.4,585 534,582.3 534.5,579.5 534.9,576.7 535.2,573.7 535.3,570.7 535.4,567.7 535.3,564.6 535.2,561.4 534.9,558.2 534.5,554.9 534,551.7 533.4,548.4 532.7,545 531.8,541.7 530.9,538.4 529.9,535 528.7,531.7 527.5,528.4 526.2,525.1 524.7,521.9 523.2,518.6 521.6,515.4 519.9,512.3 518.1,509.2 516.3,506.1 514.3,503.2 512.3,500.2 510.3,497.4 508.1,494.6 505.9,492 503.7,489.4 501.4,486.9 499,484.5 496.6,482.2 494.2,480 491.7,478 489.2,476 486.7,474.2 484.2,472.5 481.6,470.9 479.1,469.4 476.5,468.1 473.9,466.9 471.3,465.9 468.8,464.9 466.3,464.2 463.7,463.5 461.2,463.1 458.8,462.7 456.3,462.5 453.9,462.5 451.6,462.6 449.3,462.8 447,463.2 444.8,463.7 442.7,464.4 440.6,465.2 438.6,466.2"/>
<polygon class="tooth" points="527.4,518.7 528.8,521.8 543,504.2 541.4,501.3"/>
<polygon class="tooth" points="530.5,525.9 531.8,529.1 546.5,511.3 545.1,508.2"/>
<polygon class="tooth" points="533.3,533.2 534.3,536.4 549.6,518.5 548.4,515.4"/>
<polygon class="tooth" points="535.5,540.6 536.3,543.7 552.3,525.8 551.2,522.7"/>
<polygon class="tooth" points="537.3,547.9 537.9,551.1 554.5,533.2 553.6,530"/>
<polygon class="tooth" points="538.6,555.2 539,558.3 556.2,540.5 555.5,537.4"/>
<polygon class="tooth" points="539.4,562.3 539.6,565.4 557.5,547.8 557,544.7"/>
<polygon class="tooth" points="539.7,569.3 539.7,572.2 558.2,554.9 557.9,551.9"/>
<polygon class="tooth" points="539.5,576 539.2,578.8 558.4,561.8 558.4,558.9"/>
<polygon class="tooth" points="538.8,582.4 538.3,585.1 558.1,568.5 558.3,565.7"/>
<polygon class="tooth" points="537.5,588.5 536.8,590.9 557.3,574.9 557.7,572.2"/>
<polygon class="tooth" points="535.8,594.1 534.9,596.4 556.1,580.9 556.7,578.3"/>
<polygon class="tooth" points="533.6,599.3 532.5,601.4 554.3,586.5 555.1,584.1"/>
<polygon class="tooth" points="531,604.1 529.7,605.9 552,591.6 553.1,589.5"/>
<polygon class="tooth" points="527.9,608.3 526.4,609.9 549.3,596.3 550.5,594.4"/>
<polygon class="tooth" points="524.4,611.9 522.7,613.3 546.2,600.4 547.6,598.7"/>
<polygon class="tooth" points="520.5,615 518.7,616.1 542.6,604 544.2,602.5"/>
<polygon class="tooth" points="516.2,617.4 514.3,618.3 538.7,607 540.4,605.8"/>
<polygon class="tooth" points="511.7,619.2 509.6,619.8 534.4,609.3 536.3,608.4"/>
<polygon class="tooth" points="428.6,465.9 430.3,464.5 444.3,460.7 442.9,462.4"/>
<polygon class="tooth" points="432.5,462.8 434.3,461.7 447.8,457.1 446.3,458.6"/>
<polygon class="tooth" points="436.8,460.4 438.7,459.5 451.8,454.1 450,455.3"/>
<polygon class="tooth" points="441.3,458.6 443.4,458 456.1,451.8 454.2,452.7"/>
<polygon class="tooth" points="446.2,457.4 448.3,457.1 460.7,450.1 458.7,450.7"/>
<polygon class="tooth" points="451.3,456.9 453.5,456.9 465.6,449 463.4,449.4"/>
<polygon class="tooth" points="456.6,457.1 458.9,457.3 470.7,448.5 468.5,448.6"/>
<polygon class="tooth" points="462,457.9 464.4,458.4 476,448.8 473.7,448.6"/>
<polygon class="tooth" points="467.6,459.3 470,460.2 481.5,449.7 479.1,449.2"/>
<polygon class="tooth" points="473.2,461.4 475.7,462.5 487.1,451.2 484.6,450.5"/>
<polygon class="tooth" points="478.9,464.2 481.3,465.5 492.7,453.4 490.3,452.4"/>
<polygon class="tooth" points="484.6,467.5 487,469.1 498.4,456.2 495.9,454.9"/>
<polygon class="tooth" points="490.2,471.4 492.5,473.2 504,459.6 501.6,458.1"/>
<polygon class="tooth" points="495.6,475.8 497.9,477.9 509.6,463.6 507.2,461.8"/>
<polygon class="tooth" points="500.9,480.8 503.2,483.1 515.1,468.1 512.7,466.1"/>
<polygon class="tooth" points="506.1,486.2 508.2,488.7 520.4,473.1 518.1,470.9"/>
<polygon class="tooth" points="511,492.1 513,494.7 525.5,478.6 523.3,476.2"/>
<polygon class="tooth" points="515.6,498.3 517.5,501.1 530.3,484.5 528.2,481.9"/>
<polygon class="tooth" points="519.9,504.8 521.6,507.7 534.9,490.8 532.9,488"/>
<polygon class="tooth" points="523.8,511.7 525.4,514.7 539.1,497.4 537.3,494.5"/>
<polygon class="k" points="523.4,519.1 527.4,518.7 528.8,521.8 525.7,524 526.4,525.8 530.5,525.9 531.8,529.1 528.4,530.7 529,532.6 533.3,533.2 534.3,536.4 530.7,537.6 531.2,539.4 535.5,540.6 536.3,543.7 532.5,544.4 532.9,546.3 537.3,547.9 537.9,551.1 533.9,551.3 534.2,553.1 538.6,555.2 539,558.3 534.9,558 535,559.8 539.4,562.3 539.6,565.4 535.3,564.5 535.4,566.3 539.7,569.3 539.7,572.2 535.3,570.9 535.2,572.5 539.5,576 539.2,578.8 534.8,577 534.6,578.6 538.8,582.4 538.3,585.1 533.9,582.8 533.6,584.3 537.5,588.5 536.8,590.9 532.5,588.2 532,589.6 535.8,594.1 534.9,596.4 530.6,593.2 530.1,594.5 533.6,599.3 532.5,601.4 528.3,597.8 527.6,599 531,604.1 529.7,605.9 525.6,602 524.8,603 527.9,608.3 526.4,609.9 522.5,605.6 521.6,606.5 524.4,611.9 522.7,613.3 519,608.7 518,609.4 520.5,615 518.7,616.1 515.2,611.2 514.1,611.8 516.2,617.4 514.3,618.3 511.1,613.1 509.9,613.5 511.7,619.2 509.6,619.8 506.7,614.5 505.4,614.7 506.8,620.4 504.7,620.7 502,615.2 500.7,615.3 501.7,620.9 499.5,620.9 497.2,615.3 495.8,615.2 496.4,620.7 494.1,620.5 492.1,614.8 490.8,614.6 491,619.9 488.6,619.4 487,613.7 485.6,613.3 485.4,618.5 483,617.6 481.7,612 480.3,611.4 479.8,616.4 477.3,615.3 476.5,609.7 475,609 474.1,613.6 471.7,612.3 471.2,606.8 469.8,605.9 468.4,610.3 466,608.7 466,603.4 464.6,602.4 462.8,606.4 460.5,604.6 460.8,599.5 459.4,598.3 457.4,602 455.1,599.9 455.8,595 454.5,593.8 452.1,597 449.8,594.7 450.9,590.2 449.6,588.8 446.9,591.6 444.8,589.1 446.3,584.9 445.1,583.4 442,585.7 440,583.1 441.9,579.2 440.7,577.6 437.4,579.5 435.5,576.7 437.7,573.2 436.7,571.6 433.1,573 431.4,570.1 433.9,567 432.9,565.2 429.2,566.1 427.6,563.1 430.4,560.5 429.6,558.7 425.6,559.1 424.2,556 427.3,553.8 426.6,552 422.5,551.9 421.2,548.7 424.6,547.1 424,545.2 419.7,544.6 418.7,541.4 422.3,540.2 421.8,538.4 417.5,537.2 416.7,534.1 420.5,533.4 420.1,531.5 415.7,529.9 415.1,526.7 419.1,526.5 418.8,524.7 414.4,522.6 414,519.5 418.1,519.8 418,518 413.6,515.5 413.4,512.4 417.7,513.3 417.6,511.5 413.3,508.5 413.3,505.6 417.7,506.9 417.8,505.3 413.5,501.8 413.8,499 418.2,500.8 418.4,499.2 414.2,495.4 414.7,492.7 419.1,495 419.4,493.5 415.5,489.3 416.2,486.9 420.5,489.6 421,488.2 417.2,483.7 418.1,481.4 422.4,484.6 422.9,483.3 419.4,478.5 420.5,476.4 424.7,480 425.4,478.8 422,473.7 423.3,471.9 427.4,475.8 428.2,474.8 425.1,469.5 426.6,467.9 430.5,472.2 431.4,471.3 428.6,465.9 430.3,464.5 434,469.1 435,468.4 432.5,462.8 434.3,461.7 437.8,466.6 438.9,466 436.8,460.4 438.7,459.5 441.9,464.7 443.1,464.3 441.3,458.6 443.4,458 446.3,463.3 447.6,463.1 446.2,457.4 448.3,457.1 451,462.6 452.3,462.5 451.3,456.9 453.5,456.9 455.8,462.5 457.2,462.6 456.6,457.1 458.9,457.3 460.9,463 462.2,463.2 462,457.9 464.4,458.4 466,464.1 467.4,464.5 467.6,459.3 470,460.2 471.3,465.8 472.7,466.4 473.2,461.4 475.7,462.5 476.5,468.1 478,468.8 478.9,464.2 481.3,465.5 481.8,471 483.2,471.9 484.6,467.5 487,469.1 487,474.4 488.4,475.4 490.2,471.4 492.5,473.2 492.2,478.3 493.6,479.5 495.6,475.8 497.9,477.9 497.2,482.8 498.5,484 500.9,480.8 503.2,483.1 502.1,487.6 503.4,489 506.1,486.2 508.2,488.7 506.7,492.9 507.9,494.4 511,492.1 513,494.7 511.1,498.6 512.3,500.2 515.6,498.3 517.5,501.1 515.3,504.6 516.3,506.2 519.9,504.8 521.6,507.7 519.1,510.8 520.1,512.6 523.8,511.7 525.4,514.7 522.6,517.3"/>
<ellipse class="n" cx="476.5" cy="538.9" rx="45.8" ry="73.9" transform="rotate(-27.5 476.5 538.9)"/>
<ellipse class="n" cx="495.1" cy="529.4" rx="24.6" ry="39" transform="rotate(-27.5 495.1 529.4)"/>
<ellipse class="n" cx="494" cy="506" rx="2.9" ry="4.4" transform="rotate(-27.5 494 506)"/>
<ellipse class="n" cx="494.7" cy="505.7" rx="2.2" ry="3.7" transform="rotate(-27.5 494.7 505.7)"/>
<ellipse class="n" cx="474.4" cy="518.5" rx="2.9" ry="4.4" transform="rotate(-27.5 474.4 518.5)"/>
<ellipse class="n" cx="475.1" cy="518.2" rx="2.2" ry="3.7" transform="rotate(-27.5 475.1 518.2)"/>
<ellipse class="n" cx="489.2" cy="519" rx="1.5" ry="2.3" transform="rotate(-27.5 489.2 519)"/>
<ellipse class="n" cx="501.8" cy="525.4" rx="1.5" ry="2.3" transform="rotate(-27.5 501.8 525.4)"/>
<ellipse class="n" cx="489.2" cy="533.8" rx="1.5" ry="2.3" transform="rotate(-27.5 489.2 533.8)"/>
<ellipse class="n" cx="501.8" cy="541.6" rx="1.5" ry="2.3" transform="rotate(-27.5 501.8 541.6)"/>
<ellipse class="n" cx="515.3" cy="541.6" rx="2.9" ry="4.4" transform="rotate(-27.5 515.3 541.6)"/>
<ellipse class="n" cx="516" cy="541.3" rx="2.2" ry="3.7" transform="rotate(-27.5 516 541.3)"/>
<ellipse class="n" cx="494" cy="553.7" rx="2.9" ry="4.4" transform="rotate(-27.5 494 553.7)"/>
<ellipse class="n" cx="494.7" cy="553.4" rx="2.2" ry="3.7" transform="rotate(-27.5 494.7 553.4)"/>
<ellipse class="k" cx="450.6" cy="555.7" rx="24.5" ry="38.9" transform="rotate(-27.5 450.6 555.7)"/>
<path class="k" d="M436.2,539.7 Q436,534.5 441.1,536.7 L456.3,543.4 Q461.3,545.6 462.2,551.8 L464.8,570.4 Q465.7,576.6 460,573.4 L442.8,563.7 Q437.1,560.5 436.9,555.3 Z"/>
<path class="n" d="M436.2,539.7 Q436,534.5 441.1,536.7 L456.3,543.4 Q461.3,545.6 462.2,551.8 L464.8,570.4 Q465.7,576.6 460,573.4 L442.8,563.7 Q437.1,560.5 436.9,555.3 Z" transform="translate(1.9,-1.0)" style="stroke-width:0.8"/>
<ellipse class="n" cx="429.1" cy="543.8" rx="1.8" ry="2.9" transform="rotate(-27.5 429.1 543.8)"/>
<ellipse class="n" cx="429.6" cy="543.6" rx="1.1" ry="2" transform="rotate(-27.5 429.6 543.6)"/>
<ellipse class="n" cx="451" cy="531.2" rx="1.8" ry="2.9" transform="rotate(-27.5 451 531.2)"/>
<ellipse class="n" cx="451.5" cy="531" rx="1.1" ry="2" transform="rotate(-27.5 451.5 531)"/>
<ellipse class="n" cx="471.7" cy="568.2" rx="1.8" ry="2.9" transform="rotate(-27.5 471.7 568.2)"/>
<ellipse class="n" cx="472.2" cy="568" rx="1.1" ry="2" transform="rotate(-27.5 472.2 568)"/>
<ellipse class="n" cx="449.5" cy="580.2" rx="1.8" ry="2.9" transform="rotate(-27.5 449.5 580.2)"/>
<ellipse class="n" cx="450" cy="580" rx="1.1" ry="2" transform="rotate(-27.5 450 580)"/>
<polyline class="dd" points="429.5,545 474.4,518.5 494,506"/>
<polyline class="dd" points="432,573.5 489.2,533.8 501.8,525.4"/>
</g>
<g id="cam">
<polygon class="k" points="845.8,308.4 850.3,306.3 850.3,306.3 852.1,305.8 854.2,305.9 856.4,306.6 858.7,308 860.9,309.9 863,312.2 864.9,315 866.6,318 867.9,321.2 868.8,324.4 869.3,327.5 869.4,330.4 869,333 868.2,335.2 867,336.9 865.4,338 865.4,338 860.9,340.2"/>
<ellipse class="k" cx="853.3" cy="324.3" rx="9.7" ry="17.6" transform="rotate(-25.5 853.3 324.3)"/>
<polygon class="k" points="841.1,309.1 845.2,307.2 845.2,307.2 847.2,306.6 849.4,306.7 851.8,307.5 854.2,309 856.6,311 858.9,313.6 861,316.5 862.8,319.8 864.2,323.2 865.2,326.7 865.7,330.1 865.8,333.3 865.4,336.1 864.5,338.4 863.2,340.2 861.5,341.5 861.5,341.5 857.5,343.4"/>
<ellipse class="k" cx="849.3" cy="326.2" rx="10.5" ry="19" transform="rotate(-25.5 849.3 326.2)"/>
<polygon class="k" points="807,327 841.6,310.2 841.6,310.2 843.5,309.7 845.6,309.8 847.8,310.5 850.1,311.9 852.4,313.8 854.5,316.2 856.5,319 858.1,322 859.4,325.2 860.4,328.5 860.9,331.7 860.9,334.6 860.6,337.3 859.7,339.5 858.5,341.2 856.9,342.3 856.9,342.3 822.1,358.6"/>
<ellipse class="k" cx="814.5" cy="342.8" rx="9.6" ry="17.5" transform="rotate(-25.5 814.5 342.8)"/>
<polyline class="nb" points="840.8,309 842.9,308.4 845.1,308.6 847.5,309.4 850,310.9 852.4,312.9 854.7,315.5 856.8,318.5 858.6,321.8 860.1,325.3 861.1,328.8 861.6,332.2 861.7,335.4 861.3,338.2 860.4,340.6 859.1,342.4 857.4,343.7"/>
<polyline class="nb" points="845.3,307.1 847.3,306.5 849.6,306.7 852,307.5 854.4,308.9 856.8,311 859.1,313.5 861.2,316.5 863,319.7 864.4,323.2 865.4,326.6 865.9,330 866,333.2 865.6,336 864.7,338.3 863.4,340.2 861.7,341.4"/>
<polygon class="wf" points="782.4,346.2 808.9,333.3 824.4,357.8 800.4,370.1"/>
<polyline class="n" points="782.4,346.2 807.1,334.2"/>
<polyline class="n" points="800.4,370.1 823.5,358.2"/>
<polyline class="n" points="830.9,315.5 832.7,315 834.8,315.1 837,315.9 839.3,317.2 841.5,319.1 843.6,321.5 845.5,324.2 847.2,327.2 848.5,330.4 849.4,333.6 849.9,336.8 850,339.7 849.6,342.3 848.8,344.5 847.6,346.2 846,347.3"/>
<polyline class="n" points="817.2,322.4 819,322.4 820.9,322.9 822.9,323.9 824.9,325.3 826.9,327.2 828.7,329.4 830.4,331.9 831.8,334.6 833,337.4 833.9,340.2 834.5,343.1 834.7,345.7 834.5,348.2 834,350.4 833.2,352.2 832.1,353.6"/>
<path class="n" style="stroke-width:0.9" d="M786,345 Q793,352 803.2,355.1 L815.5,345.5 M803.2,355.1 L802,368.5 M791.5,343.5 Q801,352 800.5,368"/>
<polyline class="dk" points="771,355.5 784,346"/>
<polyline class="dk" points="785,377 801,369.5"/>
<polygon class="k" points="750.3,372.2 759.2,367.6 759.2,367.6 760.5,367.2 762,367.2 763.7,367.6 765.4,368.5 767.1,369.9 768.8,371.5 770.3,373.5 771.6,375.6 772.7,377.9 773.5,380.3 774,382.5 774.2,384.7 774,386.6 773.5,388.3 772.7,389.6 771.6,390.5 771.6,390.5 762.9,395.4"/>
<ellipse class="k" cx="756.6" cy="383.8" rx="7.3" ry="13.2" transform="rotate(-28.5 756.6 383.8)"/>
<polygon class="k" points="704.5,394.8 708.2,388.9 716,382.4 726.2,376.1 735.4,372.1 743.6,370.4 749.3,370.4 749.3,370.4 750.9,369.9 752.7,369.9 754.6,370.5 756.6,371.5 758.7,373.1 760.6,375 762.4,377.3 763.9,379.8 765.2,382.5 766.1,385.2 766.7,387.9 766.9,390.4 766.7,392.7 766.1,394.6 765.1,396.1 763.8,397.2 763.8,397.2 760.8,402 754.9,407.9 746.5,413.4 735.6,418.6 725.9,421.6 719,421.5"/>
<ellipse class="k" cx="711.8" cy="408.1" rx="8.4" ry="15.2" transform="rotate(-28.5 711.8 408.1)"/>
<polygon class="k" points="679.3,409.1 704.9,395.5 704.9,395.5 706.4,395 708.1,395 709.9,395.5 711.8,396.5 713.7,398 715.6,399.8 717.2,402 718.7,404.4 719.9,406.9 720.8,409.5 721.4,412 721.5,414.4 721.3,416.6 720.8,418.4 719.9,419.8 718.6,420.8 718.6,420.8 693.2,434.8"/>
<ellipse class="k" cx="686.3" cy="422" rx="8" ry="14.6" transform="rotate(-28.5 686.3 422)"/>
<polygon class="k" points="661.3,420 679.9,410.2 679.9,410.2 681.3,409.7 682.8,409.8 684.6,410.2 686.3,411.2 688.1,412.5 689.8,414.2 691.4,416.2 692.7,418.5 693.9,420.8 694.7,423.2 695.2,425.6 695.4,427.8 695.2,429.8 694.7,431.5 693.8,432.8 692.7,433.8 692.7,433.8 674.3,444"/>
<ellipse class="k" cx="667.8" cy="432" rx="7.5" ry="13.6" transform="rotate(-28.5 667.8 432)"/>
<polygon class="k" points="655.8,422.4 661.1,419.7 661.1,419.7 662.6,419.2 664.2,419.2 666,419.7 667.9,420.7 669.7,422.1 671.5,423.9 673.2,426 674.6,428.3 675.8,430.8 676.6,433.3 677.2,435.8 677.3,438.1 677.1,440.2 676.6,442 675.7,443.3 674.5,444.3 674.5,444.3 669.3,447.3"/>
<ellipse class="k" cx="662.5" cy="434.9" rx="7.8" ry="14.2" transform="rotate(-28.5 662.5 434.9)"/>
<polygon class="k" points="648,424.8 655.1,421.2 655.1,421.2 656.7,420.6 658.6,420.6 660.5,421.2 662.6,422.3 664.7,423.8 666.7,425.8 668.5,428.2 670.1,430.8 671.4,433.5 672.4,436.3 672.9,439.1 673.1,441.7 672.9,444 672.3,446 671.3,447.5 670,448.6 670,448.6 663.1,452.6"/>
<ellipse class="k" cx="655.5" cy="438.7" rx="8.7" ry="15.8" transform="rotate(-28.5 655.5 438.7)"/>
<polygon class="k" points="612.5,440.2 646.8,422.7 646.8,422.7 648.7,422.1 650.9,422.1 653.2,422.7 655.6,424 658,425.8 660.3,428.1 662.4,430.9 664.3,433.9 665.8,437.1 667,440.4 667.7,443.6 667.9,446.6 667.6,449.3 666.9,451.6 665.7,453.4 664.2,454.7 664.2,454.7 630.8,473.9"/>
<ellipse class="k" cx="621.7" cy="457" rx="10.6" ry="19.2" transform="rotate(-28.5 621.7 457)"/>
<polygon class="k" points="610.3,441.3 612.5,440.1 612.5,440.1 614.5,439.4 616.7,439.4 619.2,440.1 621.8,441.5 624.3,443.4 626.8,445.9 629,448.8 631,452 632.6,455.4 633.8,458.9 634.6,462.3 634.8,465.5 634.5,468.3 633.8,470.8 632.5,472.7 630.9,474 630.9,474 628.7,475.2"/>
<ellipse class="k" cx="619.5" cy="458.2" rx="10.6" ry="19.3" transform="rotate(-28.5 619.5 458.2)"/>
<polygon class="k" points="597,448.4 610.3,441.3 610.3,441.3 612.3,440.6 614.5,440.6 617,441.3 619.6,442.7 622.1,444.6 624.6,447.1 626.8,450 628.8,453.2 630.4,456.6 631.6,460.1 632.4,463.5 632.6,466.7 632.3,469.5 631.6,472 630.3,473.9 628.7,475.2 628.7,475.2 615.6,482.4"/>
<ellipse class="k" cx="606.3" cy="465.4" rx="10.7" ry="19.4" transform="rotate(-28.5 606.3 465.4)"/>
<polyline class="n" points="718.5,380.7 720.7,380.3 723.1,380.6 725.7,381.5 728.3,383 730.9,385.1 733.4,387.7 735.7,390.7 737.7,394 739.4,397.5 740.7,401.1 741.5,404.6 741.8,408 741.7,411 741.1,413.7 740,415.8 738.4,417.5"/>
<polyline class="n" points="734.5,372.5 736.6,372.1 739,372.3 741.5,373.2 744.1,374.7 746.7,376.8 749.1,379.4 751.4,382.3 753.4,385.6 755,389 756.2,392.5 757,395.9 757.4,399.2 757.2,402.2 756.6,404.8 755.5,406.9 754.1,408.5"/>
<polyline class="n" points="755.6,369.5 757,369.1 758.5,369.1 760.2,369.5 761.9,370.5 763.6,371.8 765.3,373.4 766.8,375.4 768.1,377.5 769.2,379.8 770,382.2 770.5,384.5 770.7,386.6 770.5,388.5 770,390.2 769.2,391.5 768.1,392.4"/>
<polyline class="n" points="707.5,391.6 709.2,391.6 711.1,392 713,392.8 715,394.1 717,395.7 718.8,397.8 720.6,400 722.1,402.5 723.3,405.2 724.3,407.9 725,410.5 725.3,413.1 725.3,415.4 725,417.5 724.3,419.3 723.3,420.7"/>
<polygon class="k" points="693.7,433.6 700,436.7 705.6,436.5 714.7,430.4 718.7,421"/>
<polyline class="ln" points="695.8,412.3 704.1,419.1 715,412.1"/>
<polyline class="ln" points="704.1,419.1 707.1,435.1"/>
<polyline class="ln" points="686.2,407.2 695.8,412.3"/>
<polyline class="dk" points="744,370.5 758,362"/>
<polyline class="dk" points="762,392 777,384"/>
<ellipse class="n" cx="606.9" cy="465.1" rx="1.6" ry="2.6" transform="rotate(-28.5 606.9 465.1)"/>
<ellipse class="d" cx="599.8" cy="455.8" rx="1" ry="1.5" transform="rotate(-28.5 599.8 455.8)"/>
<ellipse class="d" cx="608.7" cy="461.8" rx="1" ry="1.5" transform="rotate(-28.5 608.7 461.8)"/>
<ellipse class="d" cx="613.7" cy="474.5" rx="1" ry="1.5" transform="rotate(-28.5 613.7 474.5)"/>
<ellipse class="d" cx="604.8" cy="469.1" rx="1" ry="1.5" transform="rotate(-28.5 604.8 469.1)"/>
<circle class="d" cx="622" cy="439.8" r="1.3"/>
<circle class="d" cx="654.9" cy="454.4" r="1.3"/>
</g>
<g id="bush">
<polygon class="k" points="630.7,487.2 653,475.8 653,475.8 655.6,475 658.4,475 661.5,475.8 664.6,477.4 667.6,479.6 670.5,482.6 673.1,486 675.4,489.8 677.1,493.8 678.4,498 679,502 679.1,505.8 678.5,509.3 677.4,512.2 675.7,514.5 673.5,516.1 673.5,516.1 651.3,527.4"/>
<ellipse class="k" cx="641" cy="507.3" rx="13.6" ry="22.6" transform="rotate(-27 641 507.3)"/>
<ellipse class="n" cx="641.7" cy="506.9" rx="12.6" ry="21" transform="rotate(-27 641.7 506.9)"/>
<polyline class="n" points="652.4,476.2 654.9,475.5 657.7,475.6 660.7,476.5 663.8,478.1 666.8,480.4 669.6,483.2 672.1,486.6 674.3,490.3 676,494.3 677.3,498.3 677.9,502.3 678,506.1 677.5,509.5 676.5,512.4 674.9,514.7 672.9,516.4"/>
<circle class="d" cx="644" cy="482.9" r="1.1"/>
<polygon class="k" points="756.8,416 776.4,406 776.4,406 778.9,405.2 781.7,405.2 784.6,406 787.7,407.5 790.6,409.7 793.4,412.6 796,415.9 798.2,419.6 799.9,423.6 801.1,427.6 801.7,431.5 801.8,435.2 801.2,438.6 800.1,441.4 798.5,443.7 796.4,445.2 796.4,445.2 776.8,455.2"/>
<ellipse class="k" cx="766.8" cy="435.6" rx="13.2" ry="22" transform="rotate(-27 766.8 435.6)"/>
<ellipse class="n" cx="767.5" cy="435.2" rx="12.2" ry="20.4" transform="rotate(-27 767.5 435.2)"/>
<polyline class="n" points="775.8,406.4 778.2,405.7 781,405.8 783.9,406.7 786.9,408.2 789.8,410.5 792.5,413.3 795,416.5 797.1,420.2 798.8,424 800,427.9 800.6,431.8 800.7,435.5 800.3,438.8 799.2,441.6 797.7,443.9 795.7,445.5"/>
<circle class="d" cx="768.6" cy="412.5" r="1.1"/>
</g>
<g id="rocker">
<path class="l" d="M661.5,88.5 L672.5,85.5 L674,82.5 Q686,83.5 695,88 Q704,92.5 713,99.5 L733,114.5 L742.5,125 L740,143 Q735,147.5 729.5,146.5 Q724,149 719.5,149.5 Q711,153.5 702,151 L690,136 L688,120 L678,113 L660.5,100 Z"/>
<path class="l" d="M647.5,80.8 L656.6,75 L667.3,74.1 L673.9,80.8 L672.3,85.7 L661.5,88.2 L659.9,99.8 L648.3,93.2 Z"/>
<path class="ln" d="M647.5,80.8 L661.5,88.2 M656.5,75.2 L668,81.5 L672.3,85.7 M664,78 L670,77.5"/>
<path class="ln" d="M664.5,90.5 Q686,88 700,95 Q714,103.5 731,118.5 M663.5,97 L680,109.5 L690,116"/>
<ellipse class="l" cx="703.2" cy="130.6" rx="11.5" ry="20.5" transform="rotate(-33 703.2 130.6)"/>
<ellipse class="ln" cx="702" cy="131.4" rx="9.5" ry="17" transform="rotate(-33 702 131.4)"/>
<ellipse class="l" cx="701" cy="132.1" rx="6.9" ry="12.4" transform="rotate(-33 701 132.1)"/>
<path class="ln" d="M712.5,113 Q722.5,124 718.5,141.5 Q716,148.5 710,150.5"/>
<path class="ln" d="M719.5,141.5 Q727,141 731,136.5 Q735.5,131 740,128.5"/>
<path class="k" d="M740.3,132 Q740.3,126.5 750,126.5 Q760,126.5 760.5,132 L762.5,136 L763,150 L759.5,154.5 L752,156 L742.5,152.5 L740.3,147 Z"/>
<ellipse class="n" cx="750.3" cy="132.2" rx="9.8" ry="5.2"/>
<ellipse class="n" cx="750.6" cy="132.2" rx="4.8" ry="2.9"/>
<path class="n" d="M752,138 L752,156 M757.5,137 L758.5,151.5 M760.5,147.5 L762,143"/>
<path class="k" d="M740,98.5 L743.5,94 L755,93 L761,96.5 L761,104 L756.5,108.5 L745,109 L740,105 Z"/>
<ellipse class="n" cx="750.4" cy="98.6" rx="9.6" ry="4.8"/>
<ellipse class="d" cx="750.4" cy="98.4" rx="5.2" ry="2.6"/>
<path class="n" d="M745,109 L745,104 M756.5,108.5 L756.5,103.5"/>
<polygon class="k" points="670.8,131 681.7,124 681.7,124 682.7,123.5 683.8,123.4 685.1,123.7 686.4,124.2 687.7,125.1 689,126.2 690.3,127.5 691.4,129 692.3,130.6 693,132.3 693.5,133.9 693.7,135.5 693.7,136.9 693.4,138.2 692.8,139.2 692.1,139.9 692.1,139.9 681.2,147"/>
<ellipse class="k" cx="676" cy="139" rx="5.3" ry="9.5" transform="rotate(-33 676 139)"/>
<polyline class="n" points="681.5,120.9 682.8,120.3 684.2,120.2 685.8,120.5 687.5,121.2 689.2,122.3 690.9,123.7 692.5,125.5 693.9,127.4 695.1,129.4 696,131.6 696.6,133.7 696.9,135.7 696.9,137.5 696.5,139.1 695.8,140.4 694.8,141.3"/>
<polyline class="n" points="682.7,119.9 683.9,119.3 685.4,119.2 687,119.5 688.8,120.3 690.5,121.4 692.2,122.8 693.8,124.5 695.2,126.5 696.4,128.6 697.4,130.8 698,132.9 698.3,135 698.3,136.8 697.9,138.4 697.2,139.7 696.2,140.7"/>
<polyline class="n" points="683.9,119.1 685.2,118.5 686.7,118.4 688.3,118.7 690,119.4 691.8,120.5 693.5,122 695.1,123.7 696.5,125.7 697.7,127.8 698.6,130 699.3,132.1 699.6,134.1 699.5,136 699.1,137.6 698.4,138.9 697.4,139.9"/>
<path class="k" d="M603.6,134.5 Q606,129.5 610.5,126.5 Q618,119.5 629,116.8 L639.5,116 L662.5,129.5 L677.5,135.8 L693,152.5 Q699.5,158.5 699.8,166 L699.8,190.5 Q698,200 690,204.5 Q681.5,208.5 673,205.5 Q668.5,202 667,195 L664.5,185 L662.5,165.5 L652,160 Q640,156 630,163 Q624,168 625,178 L625,192 L603,192 Z"/>
<path class="n" d="M603.6,134.5 L630,147.2 L662.5,164.5 Q672,170 680,171.2 Q694,171 699.8,164"/>
<path class="n" d="M630,147.2 Q622,152 621.5,160 M650,162.5 Q662,172 660,187 Q659,192 656.5,195"/>
<path class="n" d="M667.5,187.5 Q684,187.5 699.8,180 M668.5,195.5 Q686,196 699.5,188.5"/>
<ellipse class="n" cx="632.6" cy="131.2" rx="7.6" ry="4.4" transform="rotate(8 632.6 131.2)"/>
<ellipse class="n" cx="657.5" cy="145.3" rx="8.7" ry="5.4" transform="rotate(8 657.5 145.3)"/>
<ellipse class="n" cx="657.8" cy="146.2" rx="5" ry="2.6" style="stroke-width:1.4"/>
<ellipse class="n" cx="678.8" cy="158.4" rx="8" ry="4.9" transform="rotate(8 678.8 158.4)"/>
<rect class="k" x="625.5" y="50" width="14.5" height="61.5"/>
<path class="n" d="M625.5,111.5 Q632.7,115 640,111.5"/>
<path class="n" style="stroke-width:1.3" d="M625.5,86 Q632.7,88.6 640,86"/>
<path class="n" style="stroke-width:1.3" d="M625.5,88.4 Q632.7,91 640,88.4"/>
<path class="n" style="stroke-width:1.3" d="M625.5,90.8 Q632.7,93.4 640,90.8"/>
<path class="n" style="stroke-width:1.3" d="M625.5,93.2 Q632.7,95.8 640,93.2"/>
<path class="n" style="stroke-width:1.3" d="M625.5,95.6 Q632.7,98.2 640,95.6"/>
<path class="n" style="stroke-width:1.3" d="M625.5,98 Q632.7,100.6 640,98"/>
<path class="n" style="stroke-width:1.3" d="M625.5,100.4 Q632.7,103 640,100.4"/>
<path class="n" style="stroke-width:1.3" d="M625.5,102.8 Q632.7,105.4 640,102.8"/>
<path class="n" style="stroke-width:1.3" d="M625.5,105.2 Q632.7,107.8 640,105.2"/>
<path class="n" style="stroke-width:1.3" d="M625.5,107.6 Q632.7,110.2 640,107.6"/>
<path class="n" style="stroke-width:1.3" d="M625.5,110 Q632.7,112.6 640,110"/>
<path class="k" d="M620,49 Q620,46 623.5,45.5 L623.5,39.5 L628,35.8 L638,35.8 L642.5,39.5 L642.5,45.5 Q645.8,46 645.8,49 Q645.8,52.5 632.9,52.8 Q620,52.5 620,49 Z"/>
<path class="n" d="M623.5,45.5 Q633,48.5 642.5,45.5 M628.5,40.5 L628.5,47 M638,40.5 L638,47"/>
<ellipse class="n" cx="633" cy="39.6" rx="8.2" ry="3.4"/>
<polygon class="k" points="622.6,171.1 642.7,158.1 642.7,158.1 643.8,157.6 645.1,157.5 646.6,157.8 648.1,158.4 649.6,159.4 651.1,160.6 652.5,162.1 653.7,163.8 654.8,165.7 655.6,167.6 656.1,169.4 656.4,171.2 656.3,172.8 656,174.2 655.4,175.4 654.5,176.2 654.5,176.2 634.4,189.3"/>
<ellipse class="k" cx="628.5" cy="180.2" rx="6" ry="10.8" transform="rotate(-33 628.5 180.2)"/>
<polyline class="n" points="635.4,188.6 634.3,189.1 633,189.2 631.6,188.9 630.1,188.3 628.6,187.3 627.1,186.1 625.7,184.5 624.4,182.8 623.4,181 622.6,179.1 622,177.3 621.8,175.5 621.8,173.8 622.1,172.4 622.7,171.3 623.6,170.5"/>
<polyline class="n" points="636.6,187.8 635.5,188.3 634.2,188.4 632.8,188.1 631.3,187.5 629.7,186.6 628.2,185.3 626.9,183.8 625.6,182.1 624.6,180.2 623.7,178.4 623.2,176.5 622.9,174.7 623,173.1 623.3,171.7 623.9,170.5 624.8,169.7"/>
<path class="n" style="stroke-width:2" d="M617.6,172.8 Q613.6,181 624,189.5 Q632,193.5 638.5,189.3"/>
<path class="k" d="M536.5,161.5 L548.1,156.6 Q557,155.5 564.7,157.4 Q575,160 584.5,164.8 L607.7,178.1 L634.2,191.3 L634.5,214 L624.5,213 Q619,219.5 614.3,221.1 Q603,228 594.5,226.5 Q582,224 574,212 Q570,203 571.3,191.3 L556.4,183.9 L537.4,172.3 Z"/>
<path class="k" d="M520.8,158.2 L525.8,150 L538.2,147 L545.6,151.6 L548.1,156.6 L536.5,161.5 L537.4,172.3 L532.4,175.6 L521.6,168.1 Z"/>
<path class="n" d="M520.8,158.2 L532,164.5 L532.4,175.6 M532,164.5 L536.5,161.5 M526,150.2 L537.5,156.5 L545.5,152"/>
<path class="n" d="M540,163 Q556,158.5 572,163.5 Q590,170.5 604,179.5 L627,191 M540.5,170.5 L558,181 L571.5,187.5"/>
<ellipse class="k" cx="594.2" cy="202.2" rx="13.1" ry="21.8" transform="rotate(-33 594.2 202.2)"/>
<ellipse class="k" cx="588.6" cy="206" rx="13.1" ry="21.8" transform="rotate(-33 588.6 206)"/>
<ellipse class="n" cx="588" cy="206.4" rx="10.9" ry="18.2" transform="rotate(-33 588 206.4)"/>
<ellipse class="k" cx="587.6" cy="206.8" rx="8.5" ry="14.2" transform="rotate(-33 587.6 206.8)"/>
<ellipse class="n" cx="589" cy="205.8" rx="6.6" ry="11" transform="rotate(-33 589 205.8)"/>
<path class="n" d="M608.5,209 Q615,210 620,206.5 Q626,201 633.5,200"/>
<path class="k" d="M634,198 Q634,191.2 645.5,191.2 Q657.5,191.5 658.5,198 L660.5,203 L660.8,214 L657,219.5 L648,221.5 L637,217.5 L634,212 Z"/>
<ellipse class="n" cx="646" cy="197.4" rx="11" ry="5.6"/>
<ellipse class="n" cx="645.8" cy="197.2" rx="4.8" ry="2.8" style="stroke-width:1.6"/>
<path class="n" d="M648,203.5 L648,221 M654.5,202.5 L655.5,217.5 M658,213 L659.5,208.5"/>
<ellipse class="k" cx="574.6" cy="213.6" rx="12.6" ry="21.6" transform="rotate(-33 574.6 213.6)"/>
<ellipse class="k" cx="574.6" cy="213.6" rx="10.2" ry="19" transform="rotate(-33 574.6 213.6)"/>
<ellipse class="k" cx="562.8" cy="223.8" rx="10.9" ry="16.8" transform="rotate(-33 562.8 223.8)"/>
<ellipse class="k" cx="562.8" cy="223.8" rx="8.6" ry="14.2" transform="rotate(-33 562.8 223.8)"/>
<path class="n" style="stroke-width:1.5" d="M567,216 L571,221 L569.5,226 M564.5,219 L568,223.5"/>
</g>
<g id="push">
<path class="k" d="M731.5,338 Q731.5,333.5 737.5,332 L737.5,296 Q747,291.5 757,296 L757,332 Q761,333.5 761,338 L761,343 Q746,351.5 731.5,343 Z"/>
<ellipse class="n" cx="747.2" cy="296.2" rx="9.7" ry="2.7"/>
<ellipse class="n" cx="747.2" cy="296.6" rx="7" ry="1.8"/>
<path class="n" d="M731.5,338.5 Q746,347.5 761,338.5"/>
<path class="n" d="M737.5,318.5 Q747.2,321.5 757,318.5"/>
<path class="n" d="M737.5,321 Q747.2,324 757,321"/>
<path class="n" d="M737.5,324.5 Q747.2,327.5 757,324.5"/>
<path class="n" d="M737.5,327.5 Q747.2,330.5 757,327.5"/>
<path class="n" d="M737.5,331.5 Q747.2,335 757,331.5"/>
<path class="k" style="stroke:#444" d="M740.5,243 Q747,239.5 753.8,243 L753.8,289 Q747,292.5 740.5,289 Z"/>
<path class="ln" d="M742.8,242 L742.8,289"/>
<path class="k" style="stroke:#444" d="M740.5,196.5 Q747,193.5 753.8,196.5 L753.8,236.5 Q747,240 740.5,236.5 Z"/>
<path class="ln" d="M742.8,194 L742.8,237"/>
<path class="k" d="M739,183 Q739,178 747,178 Q755,178 755,183 L755,187 Q755,193.5 747,193.5 Q739,193.5 739,187 Z"/>
<path class="n" d="M739,184.5 Q747,188.5 755,184.5"/>
<rect class="k" x="742.3" y="157.5" width="10.6" height="21" rx="3"/>
<path class="n" style="stroke-width:1.2" d="M742.3,160 Q747.6,162.4 752.9,160"/>
<path class="n" style="stroke-width:1.2" d="M742.3,162.5 Q747.6,164.9 752.9,162.5"/>
<path class="n" style="stroke-width:1.2" d="M742.3,165 Q747.6,167.4 752.9,165"/>
<path class="n" style="stroke-width:1.2" d="M742.3,167.5 Q747.6,169.9 752.9,167.5"/>
<path class="n" style="stroke-width:1.2" d="M742.3,170 Q747.6,172.4 752.9,170"/>
<path class="n" style="stroke-width:1.2" d="M742.3,172.5 Q747.6,174.9 752.9,172.5"/>
<path class="n" style="stroke-width:1.2" d="M742.3,175 Q747.6,177.4 752.9,175"/>
<path class="n" style="stroke-width:1.2" d="M742.3,177.5 Q747.6,179.9 752.9,177.5"/>
<line class="g" x1="754.6" y1="219" x2="764" y2="219"/>
<line class="g" x1="756.2" y1="307.8" x2="764.2" y2="307.8"/>
<text class="t" x="766.6" y="225.4">19</text>
<text class="t" x="766" y="315">18</text>
</g>
<g id="shell">
<path class="k" d="M831.9,295.4 Q827,293.5 827.5,289.9 Q828,286 830.8,284.4 Q834.5,281.5 838.6,281.5 Q843,282.5 846.3,285.5 L855.1,291 Q859.5,293.5 861.8,297.6 Q864.5,302 865.1,306.5 L862.9,310 Q859,309.5 857.3,306.5 Q856.5,302 854,298.7 Q851.5,295.5 848.5,293.2 Q845,290.5 840.8,289.9 Q838,289.5 836.4,291 L835.2,294.3 Z"/>
<path class="n" d="M846.3,285.5 Q848.5,289 848.5,293.2 M861.8,297.6 Q858,299 857.3,306.5 M836.4,291 Q834.5,287.5 831,287.5 Q828.5,288 827.5,289.9"/>
<path class="k" d="M829.7,365 L834.1,367.2 Q834.5,372 836.4,376.1 Q838.5,381 841.9,384.9 Q845,388.5 848.5,390.4 Q852.5,390.5 855.1,387.1 L856.2,381.6 L860.7,380.5 Q863.5,382.5 864,386 Q862.5,391.5 857.3,394.9 Q853,397.5 848.5,397.1 Q843,394 838.6,389.3 Q834,385 830.8,380.5 Q828,375.5 827.5,370.6 Z"/>
<path class="n" d="M829.7,365 Q831,371.5 833.5,376.5 Q837,384 843,389 Q847.5,393 853,392 Q857.5,390.5 860,386 M856.2,381.6 Q857,385 860,386"/>
<polyline class="g" points="862,294.8 881,294.8 881,384.6 863.5,384.6"/>
<line class="g" x1="881" y1="340.2" x2="888.5" y2="340.2"/>
<text class="t" x="897" y="344.8">17</text>
</g>
<g id="b1314">
<polygon class="gb" style="fill:none" points="686.8,463.5 701.4,463.5 683.5,443.5 713,463.5 769.3,463.5 769.3,555.8 686.8,555.8"/>
<path class="l" transform="translate(3.6,0.4)" d="M716.2,478.1 Q716.5,474.5 718.9,473.1 Q721.5,470.8 724.7,470.9 Q728,471 729.8,473.1 L733.8,479.6 Q738,482 743.4,483.2 Q748,485 749.8,488.1 L751.6,496.3 L753.8,510.8 L749.4,513.5 Q746,512 744.7,508.6 L742.9,500.8 Q741.5,495.5 737.1,492.3 Q733.5,489.5 729.8,489 Q726.5,489 725.3,490.8 L724,496.3 L718,492.7 Q716,486 716.2,478.1 Z"/>
<path class="l" d="M716.2,478.1 Q716.5,474.5 718.9,473.1 Q721.5,470.8 724.7,470.9 Q728,471 729.8,473.1 L733.8,479.6 Q738,482 743.4,483.2 Q748,485 749.8,488.1 L751.6,496.3 L753.8,510.8 L749.4,513.5 Q746,512 744.7,508.6 L742.9,500.8 Q741.5,495.5 737.1,492.3 Q733.5,489.5 729.8,489 Q726.5,489 725.3,490.8 L724,496.3 L718,492.7 Q716,486 716.2,478.1 Z"/>
<ellipse class="ln" cx="722.6" cy="479" rx="1.4" ry="2.1"/>
<ellipse class="ln" cx="742.5" cy="493.5" rx="1.4" ry="2.1"/>
<polyline class="dd" points="726,503 742.5,493.5"/>
<path class="k" style="stroke-width:1.5" d="M714.6,504.8 L717.2,501.6 L721.4,501.8 L725.6,506.4 L724.6,512 L720.4,513.6 L716.2,510.4 Z"/>
<path class="n" d="M717.5,502.5 L719.5,508.5 L716.5,511 M719.5,508.5 L724.5,512.5"/>
<polygon class="k" points="700.7,517.3 712.6,512 712.6,512 713.1,512.1 713.6,512.5 714.1,513.3 714.4,514.2 714.3,514.9 714,515.3 702.1,520.6"/>
<polyline class="n" style="stroke-width:1.1" points="712,512.3 712.8,512.5 713.6,513.6 713.8,514.8 713.5,515.6"/>
<polyline class="n" style="stroke-width:1.1" points="710.6,512.9 711.4,513.1 712.2,514.2 712.5,515.4 712.1,516.2"/>
<polyline class="n" style="stroke-width:1.1" points="709.3,513.5 710.1,513.7 710.8,514.8 711.1,516.1 710.7,516.8"/>
<polyline class="n" style="stroke-width:1.1" points="707.9,514.1 708.7,514.3 709.5,515.4 709.7,516.7 709.4,517.4"/>
<polyline class="n" style="stroke-width:1.1" points="706.5,514.7 707.3,514.9 708.1,516 708.4,517.3 708,518"/>
<polyline class="n" style="stroke-width:1.1" points="705.2,515.3 706,515.6 706.7,516.6 707,517.9 706.6,518.6"/>
<polygon class="k" points="703.4,518.1 703.8,519.3 704,520.6 704,521.6 703.7,522.4 703.1,522.9 702.5,522.9 701.7,522.6 700.9,522 700.1,521 699.5,519.8 699,518.6 698.8,517.4 698.9,516.3 699.2,515.5 699.7,515.1 700.4,515 701.2,515.3 702,516 702.7,516.9 703.4,518.1"/>
<polygon class="k" points="702.8,519.6 702.6,522.5 700.5,522.2 698.6,519 698.8,516.1 700.9,516.4"/>
<polygon class="k" points="699.4,521.1 699.2,524 702.6,522.5 702.8,519.6"/>
<polygon class="k" points="699.2,524 697.1,523.7 700.5,522.2 702.6,522.5"/>
<polygon class="k" points="697.1,523.7 695.2,520.5 698.6,519 700.5,522.2"/>
<polygon class="k" points="695.2,520.5 695.4,517.6 698.8,516.1 698.6,519"/>
<polygon class="k" points="695.4,517.6 697.5,517.9 700.9,516.4 698.8,516.1"/>
<polygon class="k" points="697.5,517.9 699.4,521.1 702.8,519.6 700.9,516.4"/>
<polygon class="k" points="699.4,521.1 699.2,524 697.1,523.7 695.2,520.5 695.4,517.6 697.5,517.9"/>
<line class="g" x1="700" y1="524.4" x2="713.5" y2="537"/>
<line class="g" x1="725.3" y1="512.8" x2="735.3" y2="522.6"/>
<text class="t" x="720.6" y="549.2">13</text>
<text class="t" x="741" y="536">14</text>
</g>
<line class="g" x1="668.1" y1="521.5" x2="668.1" y2="538"/>
<text class="t" x="660.8" y="555.2">12</text>
<line class="g" x1="793.7" y1="449.5" x2="793.7" y2="468.7"/>
<text class="t" x="788" y="485.2">27</text>
<g id="lab">
<text class="t" x="555.3" y="283.8">21</text>
<text class="t" x="577" y="283.8">22</text>
<text class="t" x="606.6" y="283.8">23</text>
<text class="t" x="639.8" y="283.8">24</text>
<text class="t" x="667.5" y="283.8">25</text>
<text class="t" x="694" y="283.8">26</text>
<text class="t" x="623.8" y="324.2">20</text>
<line class="g" x1="563" y1="237" x2="563" y2="264.6"/>
<line class="g" x1="583.3" y1="234" x2="583.3" y2="264.6"/>
<line class="g" x1="614.3" y1="229" x2="614.3" y2="264.6"/>
<line class="g" x1="685.7" y1="209.5" x2="653" y2="264.6"/>
<line class="g" x1="742.6" y1="108.9" x2="679.3" y2="264.6"/>
<line class="g" x1="741" y1="186.5" x2="705" y2="264.6"/>
<text class="t" x="597" y="72.4">2</text>
<line class="g" x1="610.5" y1="66" x2="623.3" y2="66"/>
<text class="t" x="543.5" y="115.3">9</text>
<line class="g" x1="560.8" y1="108.3" x2="571" y2="108.3"/>
<rect class="gb" x="571" y="99" width="25.2" height="19.1"/>
<polyline class="g" points="596.2,105.7 621.4,113.8 596.2,111.4"/>
<ellipse class="k" cx="583.8" cy="108.6" rx="9" ry="6" style="stroke-width:1.5"/>
<ellipse class="k" cx="583.8" cy="108.4" rx="5.2" ry="3.0" style="stroke-width:1.7"/>
</g>
<g id="lb">
<rect x="392.5" y="411.7" width="19.6" height="27.6" fill="#fff" stroke="#111" stroke-width="2.6"/>
<text class="tr" x="397" y="432.4">6</text>
<line class="g" x1="408.3" y1="440.5" x2="436.4" y2="519.4"/>
<text class="t" x="455" y="419">7</text>
<line class="g" x1="460.3" y1="421.5" x2="460.3" y2="448.6"/>
<text class="t" x="486.2" y="429.4">8</text>
<line class="g" x1="499.4" y1="426" x2="531" y2="445"/>
<text class="t" x="532.2" y="417.3">1</text>
<line class="g" x1="545.8" y1="420" x2="595.5" y2="448.2"/>
<text class="ti" x="367" y="474.6">5</text>
<line class="g" x1="377" y1="479.8" x2="411" y2="559.6"/>
<text class="t" x="323" y="522">3</text>
<line class="g" x1="335.7" y1="524.9" x2="355.5" y2="544"/>
<text class="t" x="381.6" y="564.8">11</text>
<line class="g" x1="391.8" y1="570.3" x2="400" y2="578.5"/>
<text class="t" x="361" y="576.5">10</text>
<line class="g" x1="376.6" y1="580.4" x2="383.8" y2="588"/>
<polygon class="m" points="360.7,545.7 380.1,535.4 380.1,535.4 380.9,535.4 381.8,536.1 382.7,537.2 383.2,538.5 383.2,539.7 382.7,540.4 363.3,550.7"/>
<polyline class="n" style="stroke-width:1.1" points="379.6,535.7 380.8,535.9 382.1,537.5 382.7,539.4 382.2,540.6"/>
<polyline class="n" style="stroke-width:1.1" points="378.3,536.4 379.5,536.7 380.8,538.2 381.4,540.2 380.9,541.3"/>
<polyline class="n" style="stroke-width:1.1" points="376.9,537.1 378.2,537.4 379.5,538.9 380.1,540.9 379.6,542"/>
<polyline class="n" style="stroke-width:1.1" points="375.6,537.8 376.9,538.1 378.2,539.6 378.7,541.6 378.2,542.7"/>
<polyline class="n" style="stroke-width:1.1" points="374.3,538.5 375.5,538.8 376.8,540.3 377.4,542.3 376.9,543.5"/>
<polyline class="n" style="stroke-width:1.1" points="373,539.2 374.2,539.5 375.5,541 376.1,543 375.6,544.2"/>
<polyline class="n" style="stroke-width:1.1" points="371.6,539.9 372.9,540.2 374.2,541.7 374.8,543.7 374.3,544.9"/>
<polygon class="m" points="365.1,546.6 366,548.6 366.5,550.5 366.5,552.3 366.1,553.6 365.3,554.4 364.2,554.6 362.9,554.2 361.4,553.2 360.1,551.7 358.9,549.9 358,547.9 357.5,545.9 357.5,544.1 357.9,542.8 358.7,542 359.8,541.8 361.2,542.2 362.6,543.2 363.9,544.7 365.1,546.6"/>
<polygon class="m" points="364.8,548.8 364.8,553.7 361.3,553.5 357.8,548.4 357.8,543.5 361.3,543.7"/>
<polygon class="m" points="358,552.4 358,557.3 364.8,553.7 364.8,548.8"/>
<polygon class="m" points="358,557.3 354.5,557.1 361.3,553.5 364.8,553.7"/>
<polygon class="m" points="354.5,557.1 351,552 357.8,548.4 361.3,553.5"/>
<polygon class="m" points="351,552 351,547.1 357.8,543.5 357.8,548.4"/>
<polygon class="m" points="351,547.1 354.5,547.3 361.3,543.7 357.8,543.5"/>
<polygon class="m" points="354.5,547.3 358,552.4 364.8,548.8 361.3,543.7"/>
<polygon class="m" points="358,552.4 358,557.3 354.5,557.1 351,552 351,547.1 354.5,547.3"/>
<polyline class="g" style="stroke:#777" points="385,533.5 391,533.5 409.5,547.4 421.4,549.8"/>
<polygon class="k" points="389.2,588.8 399.2,583 399.2,583 399.7,583 400.3,583.4 400.8,584.1 401.2,585 401.2,585.7 401,586.2 391,591.9"/>
<polyline class="n" style="stroke-width:1.1" points="398.6,583.3 399.5,583.5 400.3,584.5 400.7,585.7 400.4,586.5"/>
<polyline class="n" style="stroke-width:1.1" points="397.3,584.1 398.2,584.2 399,585.2 399.4,586.4 399.1,587.2"/>
<polyline class="n" style="stroke-width:1.1" points="396,584.8 396.9,585 397.7,586 398.1,587.2 397.8,588"/>
<polyline class="n" style="stroke-width:1.1" points="394.7,585.6 395.6,585.7 396.4,586.7 396.8,587.9 396.5,588.7"/>
<polyline class="n" style="stroke-width:1.1" points="393.4,586.3 394.3,586.5 395.1,587.5 395.5,588.7 395.2,589.5"/>
<polyline class="n" style="stroke-width:1.1" points="392.1,587.1 393,587.2 393.8,588.2 394.2,589.4 393.9,590.2"/>
<polygon class="k" points="392,589.2 392.6,590.5 393,591.7 393,592.8 392.8,593.7 392.3,594.2 391.6,594.4 390.8,594.1 389.8,593.5 388.9,592.6 388.2,591.5 387.6,590.2 387.2,589 387.1,587.9 387.4,587 387.9,586.5 388.6,586.3 389.4,586.6 390.3,587.2 391.2,588.1 392,589.2"/>
<polygon class="k" points="391.7,590.8 391.7,593.9 389.5,593.8 387.2,590.7 387.1,587.6 389.3,587.7"/>
<polygon class="k" points="388.4,592.7 388.5,595.8 391.7,593.9 391.7,590.8"/>
<polygon class="k" points="388.5,595.8 386.3,595.7 389.5,593.8 391.7,593.9"/>
<polygon class="k" points="386.3,595.7 384,592.5 387.2,590.7 389.5,593.8"/>
<polygon class="k" points="384,592.5 383.9,589.4 387.1,587.6 387.2,590.7"/>
<polygon class="k" points="383.9,589.4 386.1,589.5 389.3,587.7 387.1,587.6"/>
<polygon class="k" points="386.1,589.5 388.4,592.7 391.7,590.8 389.3,587.7"/>
<polygon class="k" points="388.4,592.7 388.5,595.8 386.3,595.7 384,592.5 383.9,589.4 386.1,589.5"/>
<ellipse class="k" cx="403.6" cy="582.2" rx="2.5" ry="4.6" transform="rotate(-27 403.6 582.2)" style="stroke-width:1.9"/>
</g>
</svg>
</body>
</html>
